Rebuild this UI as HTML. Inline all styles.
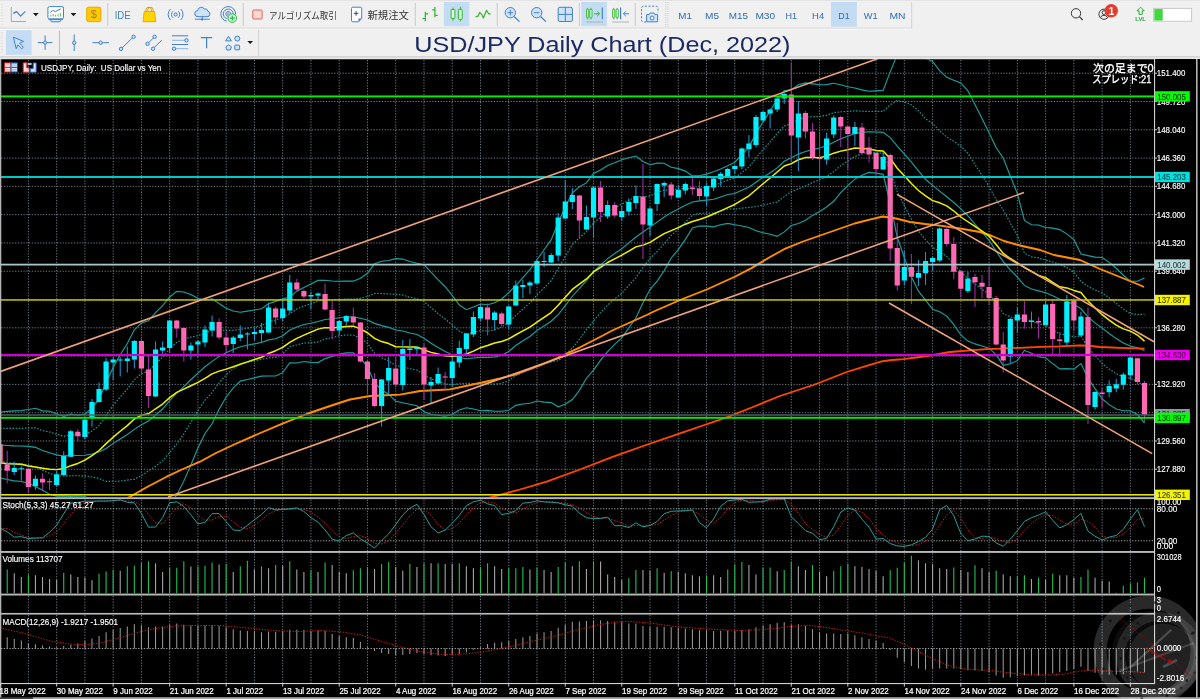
<!DOCTYPE html>
<html><head><meta charset="utf-8"><title>USD/JPY Daily Chart</title>
<style>
html,body{margin:0;padding:0;background:#000;}
body{width:1200px;height:699px;overflow:hidden;font-family:"Liberation Sans",sans-serif;}
svg{display:block}
</style></head><body>
<div id="app" style="will-change:transform;width:1200px;height:699px"><svg width="1200" height="699" viewBox="0 0 1200 699">
<defs>
<clipPath id="mainclip"><rect x="1" y="59.5" width="1153.0" height="437.7"/></clipPath>
<clipPath id="wmclip"><rect x="1" y="595" width="1195" height="104"/></clipPath>
<clipPath id="stclip"><rect x="1" y="499" width="1153.0" height="52"/></clipPath>
</defs>
<rect x="0" y="0" width="1200" height="699" fill="#f0f0f0"/>
<rect x="0" y="59" width="1200" height="640" fill="#000"/>
<g id="grid" stroke="#8492a0" stroke-width="0.95" stroke-dasharray="1.3,1.5" fill="none" opacity="0.85">
<path d="M28.39 60V496.5M28.39 499.5V551M28.39 553.5V593M28.39 596V613M28.39 615V683"/>
<path d="M56.65 60V496.5M56.65 499.5V551M56.65 553.5V593M56.65 596V613M56.65 615V683"/>
<path d="M84.9 60V496.5M84.9 499.5V551M84.9 553.5V593M84.9 596V613M84.9 615V683"/>
<path d="M113.16 60V496.5M113.16 499.5V551M113.16 553.5V593M113.16 596V613M113.16 615V683"/>
<path d="M141.42 60V496.5M141.42 499.5V551M141.42 553.5V593M141.42 596V613M141.42 615V683"/>
<path d="M169.67 60V496.5M169.67 499.5V551M169.67 553.5V593M169.67 596V613M169.67 615V683"/>
<path d="M197.93 60V496.5M197.93 499.5V551M197.93 553.5V593M197.93 596V613M197.93 615V683"/>
<path d="M226.18 60V496.5M226.18 499.5V551M226.18 553.5V593M226.18 596V613M226.18 615V683"/>
<path d="M254.44 60V496.5M254.44 499.5V551M254.44 553.5V593M254.44 596V613M254.44 615V683"/>
<path d="M282.7 60V496.5M282.7 499.5V551M282.7 553.5V593M282.7 596V613M282.7 615V683"/>
<path d="M310.95 60V496.5M310.95 499.5V551M310.95 553.5V593M310.95 596V613M310.95 615V683"/>
<path d="M339.21 60V496.5M339.21 499.5V551M339.21 553.5V593M339.21 596V613M339.21 615V683"/>
<path d="M367.46 60V496.5M367.46 499.5V551M367.46 553.5V593M367.46 596V613M367.46 615V683"/>
<path d="M395.72 60V496.5M395.72 499.5V551M395.72 553.5V593M395.72 596V613M395.72 615V683"/>
<path d="M423.98 60V496.5M423.98 499.5V551M423.98 553.5V593M423.98 596V613M423.98 615V683"/>
<path d="M452.23 60V496.5M452.23 499.5V551M452.23 553.5V593M452.23 596V613M452.23 615V683"/>
<path d="M480.49 60V496.5M480.49 499.5V551M480.49 553.5V593M480.49 596V613M480.49 615V683"/>
<path d="M508.74 60V496.5M508.74 499.5V551M508.74 553.5V593M508.74 596V613M508.74 615V683"/>
<path d="M537 60V496.5M537 499.5V551M537 553.5V593M537 596V613M537 615V683"/>
<path d="M565.26 60V496.5M565.26 499.5V551M565.26 553.5V593M565.26 596V613M565.26 615V683"/>
<path d="M593.51 60V496.5M593.51 499.5V551M593.51 553.5V593M593.51 596V613M593.51 615V683"/>
<path d="M621.77 60V496.5M621.77 499.5V551M621.77 553.5V593M621.77 596V613M621.77 615V683"/>
<path d="M650.02 60V496.5M650.02 499.5V551M650.02 553.5V593M650.02 596V613M650.02 615V683"/>
<path d="M678.28 60V496.5M678.28 499.5V551M678.28 553.5V593M678.28 596V613M678.28 615V683"/>
<path d="M706.54 60V496.5M706.54 499.5V551M706.54 553.5V593M706.54 596V613M706.54 615V683"/>
<path d="M734.79 60V496.5M734.79 499.5V551M734.79 553.5V593M734.79 596V613M734.79 615V683"/>
<path d="M763.05 60V496.5M763.05 499.5V551M763.05 553.5V593M763.05 596V613M763.05 615V683"/>
<path d="M791.3 60V496.5M791.3 499.5V551M791.3 553.5V593M791.3 596V613M791.3 615V683"/>
<path d="M819.56 60V496.5M819.56 499.5V551M819.56 553.5V593M819.56 596V613M819.56 615V683"/>
<path d="M847.82 60V496.5M847.82 499.5V551M847.82 553.5V593M847.82 596V613M847.82 615V683"/>
<path d="M876.07 60V496.5M876.07 499.5V551M876.07 553.5V593M876.07 596V613M876.07 615V683"/>
<path d="M904.33 60V496.5M904.33 499.5V551M904.33 553.5V593M904.33 596V613M904.33 615V683"/>
<path d="M932.58 60V496.5M932.58 499.5V551M932.58 553.5V593M932.58 596V613M932.58 615V683"/>
<path d="M960.84 60V496.5M960.84 499.5V551M960.84 553.5V593M960.84 596V613M960.84 615V683"/>
<path d="M989.1 60V496.5M989.1 499.5V551M989.1 553.5V593M989.1 596V613M989.1 615V683"/>
<path d="M1017.35 60V496.5M1017.35 499.5V551M1017.35 553.5V593M1017.35 596V613M1017.35 615V683"/>
<path d="M1045.61 60V496.5M1045.61 499.5V551M1045.61 553.5V593M1045.61 596V613M1045.61 615V683"/>
<path d="M1073.86 60V496.5M1073.86 499.5V551M1073.86 553.5V593M1073.86 596V613M1073.86 615V683"/>
<path d="M1102.12 60V496.5M1102.12 499.5V551M1102.12 553.5V593M1102.12 596V613M1102.12 615V683"/>
<path d="M1130.38 60V496.5M1130.38 499.5V551M1130.38 553.5V593M1130.38 596V613M1130.38 615V683"/>
<path d="M1 73.2H1154.5"/>
<path d="M1 101.49H1154.5"/>
<path d="M1 129.78H1154.5"/>
<path d="M1 158.07H1154.5"/>
<path d="M1 186.36H1154.5"/>
<path d="M1 214.65H1154.5"/>
<path d="M1 242.94H1154.5"/>
<path d="M1 271.23H1154.5"/>
<path d="M1 299.52H1154.5"/>
<path d="M1 327.81H1154.5"/>
<path d="M1 356.1H1154.5"/>
<path d="M1 384.39H1154.5"/>
<path d="M1 412.68H1154.5"/>
<path d="M1 440.97H1154.5"/>
<path d="M1 469.26H1154.5"/>
<path d="M1 508.8H1154.5M1 540.8H1154.5" stroke="#c8c8c8"/>
<path d="M1 648.5H1154.5" stroke="#c8c8c8"/>
</g>
<g id="ind" clip-path="url(#mainclip)">
<polyline points="0.14,412.11 7.2,411.38 14.26,410.89 21.33,410.66 28.39,409.58 35.46,408.3 42.52,410.86 49.58,411.18 56.65,413.67 63.71,416.37 70.78,414.14 77.84,415.1 84.9,414.16 91.97,407.92 99.03,399.24 106.1,382.72 113.16,367.45 120.22,354.82 127.29,343.48 134.35,329.8 141.42,322.96 148.48,320.79 155.54,312.68 162.61,305.65 169.67,297 176.74,291.42 183.8,291.98 190.86,294.46 197.93,298.23 204.99,300.03 212.06,298.83 219.12,303.48 226.18,308.3 233.25,310.92 240.31,312.28 247.38,311.11 254.44,309.92 261.5,308.73 268.57,303.81 275.63,301.37 282.7,298.77 289.76,297.28 296.82,291.14 303.89,287.55 310.95,284.11 318.02,280.39 325.08,280.27 332.14,281 339.21,281.42 346.27,281.15 353.34,281.16 360.4,278.3 367.46,273.27 374.53,263.78 381.59,261.32 388.66,260.5 395.72,258.64 402.78,259.1 409.85,261.59 416.91,263.18 423.98,264.86 431.04,272.15 438.1,279.66 445.17,286.74 452.23,295.4 459.3,304.99 466.36,309.69 473.42,307.07 480.49,304.02 487.55,304.7 494.62,302.72 501.68,299.03 508.74,292.71 515.81,285.6 522.87,277.53 529.94,269.71 537,259.7 544.06,249.75 551.13,239.89 558.19,222.71 565.26,206.96 572.32,193.01 579.38,186.8 586.45,182.88 593.51,173.54 600.58,169.99 607.64,165.61 614.7,162.79 621.77,159.67 628.83,157.82 635.9,156.02 642.96,161.46 650.02,164.77 657.09,163.09 664.15,163.23 671.22,167.34 678.28,168.63 685.34,171.12 692.41,175.89 699.47,175.71 706.54,174.12 713.6,171.68 720.66,169.04 727.73,165.71 734.79,162.18 741.86,154.62 748.92,146.88 755.98,133.76 763.05,121.84 770.11,111.1 777.18,99.3 784.24,90.76 791.3,89.78 798.37,84.76 805.43,82.86 812.5,83.86 819.56,84.77 826.62,84.58 833.69,83.19 840.75,84.81 847.82,86.75 854.88,88.04 861.94,89.86 869.01,91.2 876.07,90.83 883.14,90.42 890.2,71.91 897.26,54.82 904.33,49.98 911.39,47.6 918.46,50.63 925.52,58.3 932.58,61.52 939.65,70.54 946.71,77.3 953.78,80.24 960.84,82.93 967.9,90.82 974.97,104.52 982.03,118.48 989.1,132.7 996.16,147.75 1003.22,158.03 1010.29,175.95 1017.35,193.65 1024.42,220.48 1031.48,224.71 1038.54,224.97 1045.61,227.53 1052.67,228.1 1059.74,229.63 1066.8,233.9 1073.86,239.59 1080.93,254.06 1087.99,255.64 1095.06,257.12 1102.12,257.47 1109.18,262.38 1116.25,268.27 1123.31,275.24 1130.38,281.22 1137.44,281.24 1144.5,277.98" fill="none" stroke="#1a9a9a" stroke-width="1.1"/>
<polyline points="0.14,477.76 7.2,479.5 14.26,480.91 21.33,481.49 28.39,483.25 35.46,486.41 42.52,490.18 49.58,494.21 56.65,496.09 63.71,495.86 70.78,496.33 77.84,495.98 84.9,496.48 91.97,500 99.03,504.97 106.1,514.21 113.16,519.28 120.22,523.21 127.29,525.62 134.35,529.01 141.42,526.46 148.48,521.15 155.54,517.4 162.61,512.34 169.67,504.35 176.74,494.9 183.8,481.13 190.86,465.01 197.93,447.96 204.99,433.54 212.06,423.81 219.12,409.27 226.18,396.98 233.25,387.92 240.31,381.1 247.38,379.47 254.44,377.9 261.5,376.13 268.57,375.97 275.63,376.07 282.7,372.65 289.76,362.8 296.82,362.96 303.89,361.47 310.95,362.35 318.02,362.59 325.08,358.61 332.14,356.42 339.21,353.96 346.27,352.87 353.34,352.92 360.4,358.2 367.46,366.63 374.53,382.96 381.59,389.92 388.66,394.2 395.72,401.3 402.78,402.74 409.85,404.33 416.91,405.72 423.98,411.66 431.04,414.31 438.1,415.24 445.17,416.26 452.23,414.24 459.3,410.09 466.36,407.81 473.42,409.03 480.49,410.68 487.55,410.34 494.62,411.32 501.68,411.25 508.74,410.31 515.81,405.38 522.87,404.01 529.94,403.27 537,400.94 544.06,402.09 551.13,402.61 558.19,406.79 565.26,404.22 572.32,399.47 579.38,390.34 586.45,378.2 593.51,370.14 600.58,360.09 607.64,351.61 614.7,344.29 621.77,337.81 628.83,327.92 635.9,318.06 642.96,302.66 650.02,289.57 657.09,281.09 664.15,270.75 671.22,257.94 678.28,249.55 685.34,239.36 692.41,227.99 699.47,226.03 706.54,226.08 713.6,226.86 720.66,224.82 727.73,223.35 734.79,224.74 741.86,225.96 748.92,227.56 755.98,230.82 763.05,232.84 770.11,234.32 777.18,236.36 784.24,231.86 791.3,225.54 798.37,223.5 805.43,220.26 812.5,215.42 819.56,211.41 826.62,207.04 833.69,201.27 840.75,192.69 847.82,185.55 854.88,179.12 861.94,175.22 869.01,172.42 876.07,173.09 883.14,174.34 890.2,203.33 897.26,237.27 904.33,257.61 911.39,276.72 918.46,291.15 925.52,300.18 932.58,309.2 939.65,311.68 946.71,316.16 953.78,324.69 960.84,334.97 967.9,341.1 974.97,343.89 982.03,345.96 989.1,348.14 996.16,354.83 1003.22,365.29 1010.29,363.83 1017.35,360.67 1024.42,350.34 1031.48,353.31 1038.54,356.74 1045.61,357.92 1052.67,363.58 1059.74,368.85 1066.8,368.62 1073.86,369.17 1080.93,363.52 1087.99,378.03 1095.06,388.57 1102.12,398.76 1109.18,404.6 1116.25,408.91 1123.31,410.73 1130.38,410.7 1137.44,414.44 1144.5,423.12" fill="none" stroke="#1a9a9a" stroke-width="1.1"/>
<polyline points="0.14,444.94 7.2,445.44 14.26,445.9 21.33,446.07 28.39,446.42 35.46,447.35 42.52,450.52 49.58,452.69 56.65,454.88 63.71,456.11 70.78,455.24 77.84,455.54 84.9,455.32 91.97,453.96 99.03,452.1 106.1,448.47 113.16,443.36 120.22,439.01 127.29,434.55 134.35,429.41 141.42,424.71 148.48,420.97 155.54,415.04 162.61,409 169.67,400.68 176.74,393.16 183.8,386.56 190.86,379.74 197.93,373.09 204.99,366.78 212.06,361.32 219.12,356.38 226.18,352.64 233.25,349.42 240.31,346.69 247.38,345.29 254.44,343.91 261.5,342.43 268.57,339.89 275.63,338.72 282.7,335.71 289.76,330.04 296.82,327.05 303.89,324.51 310.95,323.23 318.02,321.49 325.08,319.44 332.14,318.71 339.21,317.69 346.27,317.01 353.34,317.04 360.4,318.25 367.46,319.95 374.53,323.37 381.59,325.62 388.66,327.35 395.72,329.97 402.78,330.92 409.85,332.96 416.91,334.45 423.98,338.26 431.04,343.23 438.1,347.45 445.17,351.5 452.23,354.82 459.3,357.54 466.36,358.75 473.42,358.05 480.49,357.35 487.55,357.52 494.62,357.02 501.68,355.14 508.74,351.51 515.81,345.49 522.87,340.77 529.94,336.49 537,330.32 544.06,325.92 551.13,321.25 558.19,314.75 565.26,305.59 572.32,296.24 579.38,288.57 586.45,280.54 593.51,271.84 600.58,265.04 607.64,258.61 614.7,253.54 621.77,248.74 628.83,242.87 635.9,237.04 642.96,232.06 650.02,227.17 657.09,222.09 664.15,216.99 671.22,212.64 678.28,209.09 685.34,205.24 692.41,201.94 699.47,200.87 706.54,200.1 713.6,199.27 720.66,196.93 727.73,194.53 734.79,193.46 741.86,190.29 748.92,187.22 755.98,182.29 763.05,177.34 770.11,172.71 777.18,167.83 784.24,161.31 791.3,157.66 798.37,154.13 805.43,151.56 812.5,149.64 819.56,148.09 826.62,145.81 833.69,142.23 840.75,138.75 847.82,136.15 854.88,133.58 861.94,132.54 869.01,131.81 876.07,131.96 883.14,132.38 890.2,137.62 897.26,146.05 904.33,153.8 911.39,162.16 918.46,170.89 925.52,179.24 932.58,185.36 939.65,191.11 946.71,196.73 953.78,202.47 960.84,208.95 967.9,215.96 974.97,224.21 982.03,232.22 989.1,240.42 996.16,251.29 1003.22,261.66 1010.29,269.89 1017.35,277.16 1024.42,285.41 1031.48,289.01 1038.54,290.85 1045.61,292.73 1052.67,295.84 1059.74,299.24 1066.8,301.26 1073.86,304.38 1080.93,308.79 1087.99,316.83 1095.06,322.84 1102.12,328.12 1109.18,333.49 1116.25,338.59 1123.31,342.99 1130.38,345.96 1137.44,347.84 1144.5,350.55" fill="none" stroke="#1a9a9a" stroke-width="1.1"/>
<polyline points="0.14,428.52 7.2,428.41 14.26,428.4 21.33,428.37 28.39,428 35.46,427.83 42.52,430.69 49.58,431.94 56.65,434.28 63.71,436.24 70.78,434.69 77.84,435.32 84.9,434.74 91.97,430.94 99.03,425.67 106.1,415.59 113.16,405.41 120.22,396.92 127.29,389.02 134.35,379.6 141.42,373.84 148.48,370.88 155.54,363.86 162.61,357.32 169.67,348.84 176.74,342.29 183.8,339.27 190.86,337.1 197.93,335.66 204.99,333.41 212.06,330.07 219.12,329.93 226.18,330.47 233.25,330.17 240.31,329.48 247.38,328.2 254.44,326.92 261.5,325.58 268.57,321.85 275.63,320.04 282.7,317.24 289.76,313.66 296.82,309.1 303.89,306.03 310.95,303.67 318.02,300.94 325.08,299.86 332.14,299.86 339.21,299.55 346.27,299.08 353.34,299.1 360.4,298.28 367.46,296.61 374.53,293.57 381.59,293.47 388.66,293.92 395.72,294.3 402.78,295.01 409.85,297.28 416.91,298.82 423.98,301.56 431.04,307.69 438.1,313.56 445.17,319.12 452.23,325.11 459.3,331.27 466.36,334.22 473.42,332.56 480.49,330.69 487.55,331.11 494.62,329.87 501.68,327.09 508.74,322.11 515.81,315.54 522.87,309.15 529.94,303.1 537,295.01 544.06,287.84 551.13,280.57 558.19,268.73 565.26,256.27 572.32,244.62 579.38,237.69 586.45,231.71 593.51,222.69 600.58,217.52 607.64,212.11 614.7,208.17 621.77,204.21 628.83,200.35 635.9,196.53 642.96,196.76 650.02,195.97 657.09,192.59 664.15,190.11 671.22,189.99 678.28,188.86 685.34,188.18 692.41,188.92 699.47,188.29 706.54,187.11 713.6,185.48 720.66,182.98 727.73,180.12 734.79,177.82 741.86,172.46 748.92,167.05 755.98,158.03 763.05,149.59 770.11,141.9 777.18,133.56 784.24,126.04 791.3,123.72 798.37,119.45 805.43,117.21 812.5,116.75 819.56,116.43 826.62,115.2 833.69,112.71 840.75,111.78 847.82,111.45 854.88,110.81 861.94,111.2 869.01,111.51 876.07,111.4 883.14,111.4 890.2,104.76 897.26,100.43 904.33,101.89 911.39,104.88 918.46,110.76 925.52,118.77 932.58,123.44 939.65,130.82 946.71,137.02 953.78,141.35 960.84,145.94 967.9,153.39 974.97,164.36 982.03,175.35 989.1,186.56 996.16,199.52 1003.22,209.85 1010.29,222.92 1017.35,235.41 1024.42,252.95 1031.48,256.86 1038.54,257.91 1045.61,260.13 1052.67,261.97 1059.74,264.43 1066.8,267.58 1073.86,271.98 1080.93,281.43 1087.99,286.24 1095.06,289.98 1102.12,292.79 1109.18,297.93 1116.25,303.43 1123.31,309.11 1130.38,313.59 1137.44,314.54 1144.5,314.27" fill="none" stroke="#1a9a9a" stroke-width="1.1" stroke-dasharray="1.5,1.6"/>
<polyline points="0.14,461.35 7.2,462.47 14.26,463.4 21.33,463.78 28.39,464.83 35.46,466.88 42.52,470.35 49.58,473.45 56.65,475.49 63.71,475.99 70.78,475.79 77.84,475.76 84.9,475.9 91.97,476.98 99.03,478.53 106.1,481.34 113.16,481.32 120.22,481.11 127.29,480.09 134.35,479.21 141.42,475.58 148.48,471.06 155.54,466.22 162.61,460.67 169.67,452.51 176.74,444.03 183.8,433.84 190.86,422.37 197.93,410.53 204.99,400.16 212.06,392.57 219.12,382.82 226.18,374.81 233.25,368.67 240.31,363.9 247.38,362.38 254.44,360.9 261.5,359.28 268.57,357.93 275.63,357.4 282.7,354.18 289.76,346.42 296.82,345 303.89,342.99 310.95,342.79 318.02,342.04 325.08,339.02 332.14,337.56 339.21,335.83 346.27,334.94 353.34,334.98 360.4,338.22 367.46,343.29 374.53,353.17 381.59,357.77 388.66,360.78 395.72,365.64 402.78,366.83 409.85,368.64 416.91,370.08 423.98,374.96 431.04,378.77 438.1,381.34 445.17,383.88 452.23,384.53 459.3,383.81 466.36,383.28 473.42,383.54 480.49,384.01 487.55,383.93 494.62,384.17 501.68,383.19 508.74,380.91 515.81,375.44 522.87,372.39 529.94,369.88 537,365.63 544.06,364 551.13,361.93 558.19,360.77 565.26,354.91 572.32,347.86 579.38,339.45 586.45,329.37 593.51,320.99 600.58,312.56 607.64,305.11 614.7,298.91 621.77,293.27 628.83,285.39 635.9,277.55 642.96,267.36 650.02,258.37 657.09,251.59 664.15,243.87 671.22,235.29 678.28,229.32 685.34,222.3 692.41,214.96 699.47,213.45 706.54,213.09 713.6,213.06 720.66,210.88 727.73,208.94 734.79,209.1 741.86,208.12 748.92,207.39 755.98,206.55 763.05,205.09 770.11,203.52 777.18,202.1 784.24,196.58 791.3,191.6 798.37,188.81 805.43,185.91 812.5,182.53 819.56,179.75 826.62,176.42 833.69,171.75 840.75,165.72 847.82,160.85 854.88,156.35 861.94,153.88 869.01,152.11 876.07,152.52 883.14,153.36 890.2,170.48 897.26,191.66 904.33,205.7 911.39,219.44 918.46,231.02 925.52,239.71 932.58,247.28 939.65,251.4 946.71,256.44 953.78,263.58 960.84,271.96 967.9,278.53 974.97,284.05 982.03,289.09 989.1,294.28 996.16,303.06 1003.22,313.47 1010.29,316.86 1017.35,318.91 1024.42,317.87 1031.48,321.16 1038.54,323.8 1045.61,325.32 1052.67,329.71 1059.74,334.05 1066.8,334.94 1073.86,336.78 1080.93,336.15 1087.99,347.43 1095.06,355.71 1102.12,363.44 1109.18,369.05 1116.25,373.75 1123.31,376.86 1130.38,378.33 1137.44,381.14 1144.5,386.83" fill="none" stroke="#1a9a9a" stroke-width="1.1" stroke-dasharray="1.5,1.6"/>
<polyline points="118,503 130,496.7 148,486.5 166.7,476.7 183,469 200,461.7 216,453 233,445 258,434 283,423.3 308,413.5 333,405 350,399.5 370,396 400,394.6 420,391 450,389.4 480,383 500,378.5 513.3,375 519.6,373 540,365.3 556.7,358.3 580,347.3 600,337 613.3,330 630,322.5 646.7,315 656,310.5 663,307.5 680,300 706.7,289.5 720,283.5 734.3,277 751.5,268.1 768.7,257.8 784.1,249.2 803,241.5 820.2,235.5 837.3,229.5 854.5,223.5 871.7,219.2 882.8,216.5 896,218.5 910,222 925,224 940,225.6 960,228.5 980,232 992,236 1004,241 1020,245.5 1040,250 1054,255 1080,260 1100,269 1120,277 1139.6,285 1144,287" fill="none" stroke="#ff8c00" stroke-width="1.85" stroke-linejoin="round"/>
<polyline points="470,503 493.3,496.7 520,489.5 546.7,481.7 580,469.5 613.3,456.7 646,445 680,433.3 703,425.5 726.7,417.3 753,407 780,396 813.3,385 820,382.5 846.7,372 865,366.3 881.7,361.3 892,360 903.3,359.2 920,357 933.3,355 950,352 970,350.3 986.7,349.2 1000,348.6 1020,347.8 1040,346.8 1060,346.4 1080,345.4 1090,345.8 1100,347 1120,347.8 1144.5,348.6" fill="none" stroke="#ff4500" stroke-width="1.8" stroke-linejoin="round"/>
<polyline points="0.14,463 7.2,463.6 14.26,463.94 21.33,464.27 28.39,466.02 35.46,467 42.52,468.19 49.58,469.25 56.65,469.63 63.71,468.57 70.78,465.7 77.84,463.44 84.9,460.08 91.97,455.61 99.03,450.48 106.1,443.63 113.16,437.17 120.22,431.2 127.29,425.6 134.35,419.09 141.42,415.21 148.48,413.73 155.54,408.78 162.61,404.06 169.67,397.64 176.74,392.31 183.8,389.09 190.86,385.75 197.93,382.33 204.99,378.28 212.06,373.95 219.12,371.14 226.18,369.13 233.25,366.7 240.31,364.22 247.38,361.85 254.44,359.55 261.5,357.28 268.57,353.46 275.63,350.7 282.7,347.44 289.76,342.46 296.82,338.39 303.89,335.18 310.95,332.09 318.02,329.12 325.08,327.61 332.14,327.87 339.21,327.34 346.27,326.47 353.34,326.17 360.4,328.9 367.46,332.75 374.53,338.38 381.59,341.54 388.66,343.57 395.72,346.72 402.78,346.89 409.85,347.01 416.91,347.04 423.98,349.93 431.04,352.39 438.1,354.06 445.17,355.87 452.23,356.29 459.3,355.65 466.36,353.96 473.42,351.12 480.49,347.72 487.55,345.54 494.62,343.01 501.68,341.55 508.74,338.84 515.81,334.75 522.87,330.92 529.94,327.19 537,322.1 544.06,317.4 551.13,312.6 558.19,305.27 565.26,297.28 572.32,289.42 579.38,284.12 586.45,278.96 593.51,271.92 600.58,267.31 607.64,262.51 614.7,258.91 621.77,255.22 628.83,251.13 635.9,246.89 642.96,245.16 650.02,242.34 657.09,237.86 664.15,233.64 671.22,230.7 678.28,227.57 685.34,224.21 692.41,221.51 699.47,219.54 706.54,216.96 713.6,214 720.66,210.9 727.73,207.68 734.79,204.47 741.86,200.18 748.92,195.82 755.98,189.76 763.05,183.78 770.11,178.06 777.18,171.93 784.24,165.94 791.3,163.6 798.37,159.74 805.43,157.58 812.5,157.53 819.56,157.64 826.62,156.16 833.69,153.18 840.75,151.12 847.82,149.81 854.88,148.05 861.94,148.43 869.01,148.89 876.07,150.44 883.14,150.94 890.2,158.44 897.26,168.21 904.33,175.81 911.39,183.57 918.46,190.45 925.52,195.88 932.58,200.66 939.65,202.79 946.71,205.96 953.78,211.02 960.84,216.99 967.9,221.73 974.97,226.39 982.03,231.03 989.1,236.18 996.16,244.51 1003.22,253.42 1010.29,258.47 1017.35,262.77 1024.42,267.32 1031.48,271.41 1038.54,275.33 1045.61,277.57 1052.67,282.29 1059.74,286.81 1066.8,287.93 1073.86,290.43 1080.93,292.44 1087.99,301.09 1095.06,308.08 1102.12,314.69 1109.18,320.19 1116.25,325.12 1123.31,328.93 1130.38,331.12 1137.44,335.04 1144.5,341.16" fill="none" stroke="#ecec00" stroke-width="1.45" stroke-linejoin="round"/>
</g>
<g clip-path="url(#mainclip)">
<path d="M14.26 461.7V475M21.33 465.8V480.8M35.46 475.3V489.7M56.65 470.8V486.7M63.71 451.3V475.8M70.78 429.7V457M84.9 417.5V439.2M91.97 399V426.7M99.03 382.4V402.5M106.1 358V391M113.16 358V380M120.22 357V376.4M127.29 346.4V372.4M134.35 340V368.4M155.54 341.6V397M162.61 341.6V356M169.67 320V353M190.86 342.4V359.6M197.93 340V357M204.99 325.6V347M212.06 315.4V336.4M233.25 336V353M240.31 325.6V341M247.38 332V349.4M254.44 328V340M261.5 323V343M268.57 302.4V333M282.7 299.6V321M289.76 275V313M310.95 292V309M318.02 292.6V299M339.21 320V335M346.27 315V325.4M381.59 379V426.5M388.66 357V395M402.78 340V390.6M409.85 339V360M416.91 346V354M431.04 377V403M438.1 367.4V384M452.23 357V387M459.3 340.6V367.4M466.36 333V353.4M473.42 311.4V337M480.49 304.6V321M494.62 311V330M508.74 305.4V329M515.81 280.6V306M522.87 280V298M529.94 281V294M537 260V284.4M544.06 252V267M551.13 253V263M558.19 213V261M565.26 180V219M572.32 188V209M586.45 205.6V230M593.51 186.4V238M607.64 200.4V219M621.77 206V220.4M628.83 198.6V215.6M635.9 185.6V209M650.02 207V236M657.09 183.6V211M664.15 181.6V197M678.28 185V198M685.34 182.4V194.4M706.54 182.4V205.6M713.6 178V191M720.66 172V186.2M727.73 168V178M734.79 165V174M741.86 147.6V169.6M748.92 135V157M755.98 115V147.6M763.05 111V121.4M770.11 108.6V128.4M777.18 97.6V112M784.24 93V104M798.37 101V171M826.62 132.4V164.4M833.69 115.6V138M854.88 122V146M883.14 152V170M904.33 250.7V285.5M918.46 260V286M925.52 252V285M932.58 257V270M939.65 227.6V262M967.9 272V293M1010.29 318V363M1017.35 307.4V333M1031.48 311.4V328.6M1045.61 301V325.4M1066.8 295V345M1080.93 312V336.6M1095.06 391.3V409.6M1109.18 380.2V397.3M1116.25 378.7V392.3M1123.31 372.4V389.5M1130.38 357V379.3" stroke="#1e90c8" stroke-width="1.1" fill="none"/>
<path d="M0.14 444V463M7.2 450.8V483.3M28.39 468.3V493.3M42.52 473.3V490M49.58 478.3V490M77.84 429.2V441.7M141.42 339V373M148.48 356V408M176.74 320V337.6M183.8 327.6V361.6M219.12 318.4V339.4M226.18 332V352M275.63 306.4V324.4M296.82 279V291M303.89 289.4V298.6M325.08 283.4V310.6M332.14 301V339.4M353.34 307.4V325.4M360.4 322V362.6M367.46 361V393M374.53 373V407M395.72 358V387M423.98 344V400M445.17 372V390M487.55 303.4V335.4M501.68 311.4V326.6M579.38 195V239M600.58 181V222M614.7 202V217.6M642.96 164V259M671.22 182V199.6M692.41 176V195M699.47 181V200M791.3 62.5V162M805.43 111V138.4M812.5 123V160M819.56 132V179M840.75 116V147M847.82 126V169.4M861.94 123V154M869.01 137V162.4M876.07 152.4V175M890.2 153.6V261M897.26 223V290.5M911.39 254V304M946.71 226V246.4M953.78 237V279.2M960.84 270.6V297.4M974.97 274V307M982.03 275V298M989.1 266.5V305M996.16 296V345.4M1003.22 332V372.6M1024.42 301V328.6M1038.54 317V338.6M1052.67 300V355M1059.74 332V357M1073.86 300V331M1087.99 307.4V423.9M1102.12 387.2V407.1M1137.44 357.9V384.5M1144.5 381.1V422" stroke="#962e9c" stroke-width="1.1" fill="none"/>
<path d="M11.66 468h5.2v4h-5.2zM18.73 468.3h5.2v1h-5.2zM32.86 478.7h5.2v7.6h-5.2zM54.05 474.2h5.2v10.8h-5.2zM61.11 455.8h5.2v19.2h-5.2zM68.18 431.3h5.2v25.4h-5.2zM82.3 419.7h5.2v17.3h-5.2zM89.37 402h5.2v16h-5.2zM96.43 389h5.2v13h-5.2zM103.5 361.4h5.2v28h-5.2zM110.56 359.6h5.2v2.8h-5.2zM117.62 359.6h5.2v1h-5.2zM124.69 358.4h5.2v2.6h-5.2zM131.75 341h5.2v18.6h-5.2zM152.94 349.4h5.2v47.2h-5.2zM160.01 347.4h5.2v3.2h-5.2zM167.07 320.6h5.2v27.4h-5.2zM188.26 345.6h5.2v4.8h-5.2zM195.33 341.4h5.2v3h-5.2zM202.39 329.6h5.2v12.8h-5.2zM209.46 322h5.2v8.6h-5.2zM230.65 337.6h5.2v6.4h-5.2zM237.71 334.4h5.2v3.6h-5.2zM244.78 333.4h5.2v1.2h-5.2zM251.84 332h5.2v2h-5.2zM258.9 330h5.2v3h-5.2zM265.97 307.6h5.2v24.8h-5.2zM280.1 308.4h5.2v9.6h-5.2zM287.16 282.6h5.2v28h-5.2zM308.35 295h5.2v1.6h-5.2zM315.42 293.6h5.2v2h-5.2zM336.61 321h5.2v9.6h-5.2zM343.67 316h5.2v5.4h-5.2zM378.99 379.4h5.2v26.6h-5.2zM386.06 368h5.2v12.4h-5.2zM400.18 349h5.2v36h-5.2zM407.25 348.4h5.2v1.6h-5.2zM414.31 347.4h5.2v1.6h-5.2zM428.44 382h5.2v3.4h-5.2zM435.5 374h5.2v9.4h-5.2zM449.63 361.4h5.2v16.6h-5.2zM456.7 348h5.2v14.6h-5.2zM463.76 333.6h5.2v15.4h-5.2zM470.82 317h5.2v17.4h-5.2zM477.89 307h5.2v11.4h-5.2zM492.02 312.6h5.2v7.4h-5.2zM506.14 306.4h5.2v18.2h-5.2zM513.21 285.6h5.2v19.9h-5.2zM520.27 285h5.2v2h-5.2zM527.34 282.4h5.2v3.2h-5.2zM534.4 261h5.2v22.6h-5.2zM541.46 261h5.2v1h-5.2zM548.53 255h5.2v7.4h-5.2zM555.59 217.4h5.2v38.2h-5.2zM562.66 201.4h5.2v17h-5.2zM569.72 195h5.2v7h-5.2zM583.85 217h5.2v12.4h-5.2zM590.91 187.4h5.2v30h-5.2zM605.04 205h5.2v11.4h-5.2zM619.17 211h5.2v6h-5.2zM626.23 202h5.2v9.4h-5.2zM633.3 196h5.2v7h-5.2zM647.42 208.6h5.2v16.8h-5.2zM654.49 184h5.2v20h-5.2zM661.55 183h5.2v2.6h-5.2zM675.68 190h5.2v7.4h-5.2zM682.74 184h5.2v6.6h-5.2zM703.94 186h5.2v10.4h-5.2zM711 178.4h5.2v9.2h-5.2zM718.06 173.8h5.2v5.2h-5.2zM725.13 169h5.2v8h-5.2zM732.19 166h5.2v3h-5.2zM739.26 148.6h5.2v17.8h-5.2zM746.32 143.6h5.2v5.4h-5.2zM753.38 117h5.2v28h-5.2zM760.45 112h5.2v8.6h-5.2zM767.51 109.4h5.2v4h-5.2zM774.58 98.4h5.2v11.2h-5.2zM781.64 94h5.2v4.6h-5.2zM795.77 113.4h5.2v24.2h-5.2zM824.02 138.4h5.2v21h-5.2zM831.09 117.4h5.2v17h-5.2zM852.28 127h5.2v7h-5.2zM880.54 157h5.2v12.4h-5.2zM901.73 267h5.2v13.5h-5.2zM915.86 273h5.2v4.8h-5.2zM922.92 261h5.2v12.3h-5.2zM929.98 258h5.2v4h-5.2zM937.05 228.4h5.2v32.2h-5.2zM965.3 278.6h5.2v12.4h-5.2zM1007.69 319h5.2v37.4h-5.2zM1014.75 314.4h5.2v6h-5.2zM1028.88 320.4h5.2v1.6h-5.2zM1043.01 304.4h5.2v20.6h-5.2zM1064.2 301.4h5.2v41h-5.2zM1078.33 316.6h5.2v19h-5.2zM1092.46 391.9h5.2v15.2h-5.2zM1106.58 386.1h5.2v6.2h-5.2zM1113.65 384.3h5.2v4.3h-5.2zM1120.71 374.6h5.2v10.2h-5.2zM1127.78 357.5h5.2v17.7h-5.2z" fill="#00f0ff"/>
<path d="M-2.46 444.2h5.2v18.3h-5.2zM4.6 464.2h5.2v6.6h-5.2zM25.79 468.7h5.2v18.3h-5.2zM39.92 478.7h5.2v3.8h-5.2zM46.98 481.3h5.2v1h-5.2zM75.24 431.7h5.2v4.6h-5.2zM138.82 341h5.2v27.6h-5.2zM145.88 369.4h5.2v26.6h-5.2zM174.14 320.6h5.2v7.8h-5.2zM181.2 328h5.2v22.4h-5.2zM216.52 322h5.2v15.4h-5.2zM223.58 337.4h5.2v7.6h-5.2zM273.03 308.4h5.2v9.2h-5.2zM294.22 282.6h5.2v7h-5.2zM301.29 291h5.2v5.6h-5.2zM322.48 294h5.2v15.4h-5.2zM329.54 310h5.2v21h-5.2zM350.74 316.6h5.2v6h-5.2zM357.8 322.6h5.2v39h-5.2zM364.86 361.4h5.2v17.6h-5.2zM371.93 379h5.2v27h-5.2zM393.12 368.4h5.2v16h-5.2zM421.38 347.4h5.2v37.2h-5.2zM442.57 376.6h5.2v1h-5.2zM484.95 307.4h5.2v12h-5.2zM499.08 313.4h5.2v10.6h-5.2zM576.78 195.6h5.2v25h-5.2zM597.98 187.4h5.2v24.6h-5.2zM612.1 205h5.2v10.6h-5.2zM640.36 196.6h5.2v27.8h-5.2zM668.62 184.4h5.2v11h-5.2zM689.81 187.4h5.2v1.6h-5.2zM696.87 188.4h5.2v7.6h-5.2zM788.7 94.4h5.2v41.2h-5.2zM802.83 113h5.2v18.6h-5.2zM809.9 131.4h5.2v25.6h-5.2zM816.96 158h5.2v1h-5.2zM838.15 117h5.2v9.4h-5.2zM845.22 126.4h5.2v7.6h-5.2zM859.34 127.4h5.2v25.6h-5.2zM866.41 147.4h5.2v7h-5.2zM873.47 153h5.2v16h-5.2zM887.6 155h5.2v93.4h-5.2zM894.66 248h5.2v37.5h-5.2zM908.79 267h5.2v9.7h-5.2zM944.11 229h5.2v15h-5.2zM951.18 244h5.2v27.7h-5.2zM958.24 271.2h5.2v17.5h-5.2zM972.37 277h5.2v5.3h-5.2zM979.43 282.7h5.2v4h-5.2zM986.5 287h5.2v11h-5.2zM993.56 298h5.2v46.4h-5.2zM1000.62 344.4h5.2v16h-5.2zM1021.82 314.4h5.2v7.6h-5.2zM1035.94 321h5.2v1.4h-5.2zM1050.07 304h5.2v35h-5.2zM1057.14 339.4h5.2v1.6h-5.2zM1071.26 300.6h5.2v19.8h-5.2zM1085.39 317h5.2v87.9h-5.2zM1099.52 392.6h5.2v1.5h-5.2zM1134.84 358.3h5.2v23.7h-5.2zM1141.9 383h5.2v31.6h-5.2z" fill="#ff69b4"/>
</g>
<use href="#ind" opacity="0.22"/>
<rect x="1" y="414.3" width="1153.5" height="1.4" fill="#56606a"/>
<rect x="1" y="95.45" width="1153.5" height="1.9" fill="#00f000"/>
<rect x="1" y="176" width="1153.5" height="2" fill="#00c8c8"/>
<rect x="1" y="263.7" width="1153.5" height="1.8" fill="#a8c8c8"/>
<rect x="1" y="299.32" width="1153.5" height="1.35" fill="#d2d200"/>
<rect x="1" y="353.9" width="1153.5" height="2.2" fill="#d000d0"/>
<rect x="1" y="416.85" width="1153.5" height="1.9" fill="#00f000"/>
<rect x="1" y="494.05" width="1153.5" height="1.5" fill="#f0f000"/>
<g stroke="#f0a27a" stroke-width="1.6" fill="none" stroke-linecap="butt">
<path d="M0 371.7L877.5 58.8"/>
<path d="M168 497L1024 192.6"/>
<path d="M897 194.4L1154 341.8"/>
<path d="M889 303L1152.2 453.6"/>
</g>
<g clip-path="url(#stclip)">
<polyline points="0.14,528.68 7.2,528.52 14.26,532.35 21.33,535.19 28.39,537.47 35.46,537.81 42.52,538.18 49.58,536.03 56.65,531.78 63.71,523.74 70.78,514.09 77.84,506.48 84.9,502.31 91.97,501.65 99.03,501.13 106.1,501.1 113.16,500.9 120.22,500.52 127.29,500.93 134.35,501.64 141.42,506.18 148.48,514.48 155.54,522.55 162.61,523.95 169.67,515.79 176.74,507.41 183.8,503.66 190.86,507.68 197.93,515.02 204.99,520.32 212.06,519.94 219.12,516.5 226.18,516.27 233.25,521.74 240.31,527.38 247.38,528.65 254.44,525.22 261.5,519.93 268.57,513.99 275.63,510.7 282.7,508.99 289.76,509.37 296.82,508.69 303.89,509.35 310.95,512.32 318.02,517.1 325.08,523.28 332.14,530.45 339.21,536.74 346.27,538.6 353.34,536.5 360.4,535.75 367.46,538.28 374.53,543.34 381.59,543.93 388.66,540.84 395.72,533.03 402.78,524.49 409.85,515.91 416.91,509.15 423.98,509.04 431.04,515.23 438.1,524.8 445.17,529.9 452.23,528.77 459.3,522.9 466.36,514.81 473.42,507.62 480.49,502.56 487.55,501.92 494.62,503.2 501.68,508.02 508.74,511.18 515.81,512.9 522.87,509.07 529.94,505.45 537,502.12 544.06,501.71 551.13,501.64 558.19,502.37 565.26,503.3 572.32,504.59 579.38,507.98 586.45,512.33 593.51,516.45 600.58,518.23 607.64,518.01 614.7,520.44 621.77,522.84 628.83,526.32 635.9,525.33 642.96,525.73 650.02,525.03 657.09,524.61 664.15,520.27 671.22,515.53 678.28,512 685.34,510.98 692.41,510.53 699.47,514.43 706.54,520.14 713.6,523.13 720.66,517.67 727.73,508.67 734.79,502.35 741.86,500.06 748.92,500.54 755.98,501.24 763.05,501.97 770.11,500.94 777.18,499.88 784.24,498.98 791.3,504.86 798.37,513.08 805.43,523.68 812.5,529.16 819.56,534.57 826.62,537.13 833.69,534.91 840.75,525.67 847.82,515.51 854.88,510 861.94,512.35 869.01,518.74 876.07,528.38 883.14,534.83 890.2,540.32 897.26,542.64 904.33,545.29 911.39,545.72 918.46,544.26 925.52,541.26 932.58,535.99 939.65,525.39 946.71,514.74 953.78,510.32 960.84,518.24 967.9,529.99 974.97,537.77 982.03,538.64 989.1,537.22 996.16,538.53 1003.22,541.88 1010.29,542.82 1017.35,538.73 1024.42,530.47 1031.48,523.29 1038.54,518.08 1045.61,514.88 1052.67,515.7 1059.74,519.96 1066.8,524.21 1073.86,524.02 1080.93,519.21 1087.99,521.41 1095.06,526.97 1102.12,535.89 1109.18,537.84 1116.25,537.58 1123.31,533.95 1130.38,527.9 1137.44,519.31 1144.5,518.43" fill="none" stroke="#d0202c" stroke-width="0.95" stroke-dasharray="1.5,1.5"/>
<polyline points="0.14,528.14 7.2,531.8 14.26,537.11 21.33,536.67 28.39,538.64 35.46,538.11 42.52,537.78 49.58,532.21 56.65,525.34 63.71,513.67 70.78,503.27 77.84,502.51 84.9,501.16 91.97,501.28 99.03,500.96 106.1,501.05 113.16,500.69 120.22,499.83 127.29,502.28 134.35,502.81 141.42,513.46 148.48,527.15 155.54,527.04 162.61,517.65 169.67,502.68 176.74,501.89 183.8,506.42 190.86,514.75 197.93,523.9 204.99,522.32 212.06,513.62 219.12,513.55 226.18,521.64 233.25,530.04 240.31,530.47 247.38,525.43 254.44,519.76 261.5,514.58 268.57,507.61 275.63,509.9 282.7,509.45 289.76,508.75 296.82,507.87 303.89,511.43 310.95,517.66 318.02,522.2 325.08,529.97 332.14,539.17 339.21,541.09 346.27,535.54 353.34,532.87 360.4,538.83 367.46,543.14 374.53,548.04 381.59,540.6 388.66,533.89 395.72,524.59 402.78,514.99 409.85,508.14 416.91,504.32 423.98,514.66 431.04,526.72 438.1,533.02 445.17,529.97 452.23,523.33 459.3,515.39 466.36,505.7 473.42,501.77 480.49,500.21 487.55,503.8 494.62,505.6 501.68,514.67 508.74,513.25 515.81,510.78 522.87,503.17 529.94,502.41 537,500.77 544.06,501.95 551.13,502.21 558.19,502.94 565.26,504.75 572.32,506.1 579.38,513.08 586.45,517.8 593.51,518.45 600.58,518.44 607.64,517.14 614.7,525.76 621.77,525.61 628.83,527.59 635.9,522.79 642.96,526.8 650.02,525.51 657.09,521.52 664.15,513.76 671.22,511.29 678.28,510.95 685.34,510.7 692.41,509.93 699.47,522.65 706.54,527.84 713.6,518.9 720.66,506.27 727.73,500.85 734.79,499.92 741.86,499.42 748.92,502.29 755.98,502.03 763.05,501.6 770.11,499.19 777.18,498.86 784.24,498.89 791.3,516.83 798.37,523.52 805.43,530.68 812.5,533.29 819.56,539.75 826.62,538.35 833.69,526.64 840.75,512.02 847.82,507.86 854.88,510.1 861.94,519.09 869.01,527.02 876.07,539.03 883.14,538.43 890.2,543.49 897.26,545.98 904.33,546.4 911.39,544.79 918.46,541.59 925.52,537.39 932.58,528.99 939.65,509.78 946.71,505.45 953.78,515.73 960.84,533.55 967.9,540.7 974.97,539.04 982.03,536.18 989.1,536.44 996.16,542.96 1003.22,546.24 1010.29,539.25 1017.35,530.7 1024.42,521.47 1031.48,517.69 1038.54,515.07 1045.61,511.89 1052.67,520.14 1059.74,527.87 1066.8,524.62 1073.86,519.58 1080.93,513.43 1087.99,531.23 1095.06,536.24 1102.12,540.2 1109.18,537.1 1116.25,535.46 1123.31,529.29 1130.38,518.96 1137.44,509.69 1144.5,526.66" fill="none" stroke="#22a09c" stroke-width="1.0"/>
</g>
<path d="M14.26 573.25V593.2M21.33 577V593.2M35.46 575.25V593.2M42.52 577V593.2M49.58 579V593.2M56.65 580V593.2M70.78 574.5V593.2M77.84 577V593.2M84.9 577.5V593.2M91.97 580.25V593.2M120.22 570.75V593.2M155.54 563.25V593.2M162.61 572V593.2M190.86 566.5V593.2M219.12 564.5V593.2M233.25 572V593.2M254.44 569.5V593.2M268.57 568.25V593.2M282.7 565.75V593.2M296.82 569.5V593.2M303.89 572V593.2M318.02 572V593.2M332.14 565V593.2M339.21 572V593.2M346.27 573.25V593.2M374.53 569V593.2M395.72 567V593.2M402.78 570.75V593.2M416.91 567V593.2M431.04 563.25V593.2M445.17 564V593.2M452.23 564V593.2M466.36 566.25V593.2M473.42 568.25V593.2M494.62 566.25V593.2M501.68 569V593.2M529.94 569.5V593.2M544.06 570V593.2M551.13 572V593.2M572.32 566.25V593.2M586.45 569V593.2M600.58 561.5V593.2M607.64 574.5V593.2M614.7 577V593.2M621.77 580V593.2M642.96 570V593.2M650.02 570.75V593.2M664.15 572.75V593.2M678.28 572V593.2M685.34 573.25V593.2M692.41 575.25V593.2M699.47 576.25V593.2M713.6 575.25V593.2M720.66 577V593.2M748.92 565V593.2M755.98 574.5V593.2M777.18 571.25V593.2M798.37 566.25V593.2M805.43 570V593.2M819.56 572V593.2M826.62 576.25V593.2M854.88 566.25V593.2M861.94 567V593.2M869.01 569V593.2M876.07 570.75V593.2M883.14 576.25V593.2M918.46 560.25V593.2M925.52 563.25V593.2M932.58 564V593.2M939.65 568.25V593.2M946.71 569V593.2M960.84 570V593.2M967.9 572V593.2M982.03 568.25V593.2M989.1 572V593.2M1003.22 574.5V593.2M1010.29 576.25V593.2M1031.48 579V593.2M1045.61 580V593.2M1059.74 575.25V593.2M1066.8 575.25V593.2M1073.86 577.75V593.2M1095.06 577.75V593.2M1102.12 580.75V593.2M1109.18 581.5V593.2M1116.25 592.75V593.2" stroke="#a4a4a4" stroke-width="1.1" fill="none"/>
<path d="M7.2 569.5V593.2M28.39 574.5V593.2M63.71 572.75V593.2M99.03 573.75V593.2M106.1 571.5V593.2M113.16 570V593.2M127.29 566.25V593.2M134.35 565.75V593.2M141.42 562.5V593.2M148.48 561.25V593.2M169.67 567.5V593.2M176.74 567.75V593.2M183.8 561.25V593.2M197.93 566.25V593.2M204.99 565.75V593.2M212.06 562.5V593.2M226.18 564V593.2M240.31 566.25V593.2M247.38 560.75V593.2M261.5 566.5V593.2M275.63 565V593.2M289.76 561.25V593.2M310.95 570.25V593.2M325.08 562.5V593.2M353.34 570.25V593.2M360.4 568.25V593.2M367.46 567V593.2M381.59 564V593.2M388.66 562V593.2M409.85 564V593.2M423.98 563.25V593.2M438.1 563.25V593.2M459.3 563.25V593.2M480.49 567V593.2M487.55 563.25V593.2M508.74 568.25V593.2M515.81 568.25V593.2M522.87 567V593.2M537 567.5V593.2M558.19 567V593.2M565.26 562.5V593.2M579.38 561.25V593.2M593.51 561.25V593.2M628.83 578.25V593.2M635.9 570V593.2M657.09 568.25V593.2M671.22 571.25V593.2M706.54 575.25V593.2M727.73 569.5V593.2M734.79 564.5V593.2M741.86 562V593.2M763.05 567.5V593.2M770.11 567.5V593.2M784.24 570V593.2M791.3 561.5V593.2M812.5 565V593.2M833.69 570.75V593.2M840.75 566.25V593.2M847.82 564V593.2M890.2 570.25V593.2M897.26 567.75V593.2M904.33 562.5V593.2M911.39 555.75V593.2M953.78 567.5V593.2M974.97 565.25V593.2M996.16 570.75V593.2M1017.35 576.25V593.2M1024.42 575.25V593.2M1038.54 577.75V593.2M1052.67 573.75V593.2M1080.93 577V593.2M1087.99 569.5V593.2M1123.31 585.75V593.2M1130.38 583.25V593.2M1137.44 582.5V593.2M1144.5 577.75V593.2" stroke="#1fbf55" stroke-width="1.1" fill="none"/>
<path d="M7.2 648.5V637.25M14.26 648.5V639M21.33 648.5V640.5M28.39 648.5V643.5M35.46 648.5V644.25M42.52 648.5V645.5M49.58 648.5V646.5M56.65 648.5V647.25M63.71 648.5V646M70.78 648.5V644.75M77.84 648.5V643.5M84.9 648.5V641M91.97 648.5V638.5M99.03 648.5V636M106.1 648.5V632.25M113.16 648.5V629.75M120.22 648.5V628M127.29 648.5V626.5M134.35 648.5V624.25M141.42 648.5V625.25M148.48 648.5V627.25M155.54 648.5V626.5M162.61 648.5V626.5M169.67 648.5V624.75M176.74 648.5V623.5M183.8 648.5V624.75M190.86 648.5V625.5M197.93 648.5V626M204.99 648.5V625.5M212.06 648.5V625.25M219.12 648.5V626M226.18 648.5V627.25M233.25 648.5V629.25M240.31 648.5V630.5M247.38 648.5V631M254.44 648.5V631M261.5 648.5V632.25M268.57 648.5V631.5M275.63 648.5V631.75M282.7 648.5V631M289.76 648.5V629.75M296.82 648.5V629.75M303.89 648.5V629.75M310.95 648.5V631M318.02 648.5V630.5M325.08 648.5V631M332.14 648.5V634M339.21 648.5V636M346.27 648.5V637.25M353.34 648.5V638M360.4 648.5V641.75M367.46 648.5V647.25M374.53 648.5V651M381.59 648.5V653M388.66 648.5V654M395.72 648.5V655.5M402.78 648.5V655M409.85 648.5V654M416.91 648.5V653M423.98 648.5V654M431.04 648.5V655.25M438.1 648.5V655.5M445.17 648.5V656M452.23 648.5V655M459.3 648.5V654M466.36 648.5V652.25M473.42 648.5V649.75M480.49 648.5V647.25M487.55 648.5V644M494.62 648.5V642.75M501.68 648.5V642.25M508.74 648.5V641M515.81 648.5V639M522.87 648.5V637.25M529.94 648.5V636M537 648.5V633.5M544.06 648.5V632.25M551.13 648.5V631M558.19 648.5V627.75M565.26 648.5V624.75M572.32 648.5V621.75M579.38 648.5V621.5M586.45 648.5V621M593.51 648.5V620.25M600.58 648.5V620.25M607.64 648.5V621M614.7 648.5V621.75M621.77 648.5V622.25M628.83 648.5V623.5M635.9 648.5V623.5M642.96 648.5V626M650.02 648.5V626.75M657.09 648.5V626.75M664.15 648.5V626.75M671.22 648.5V627.25M678.28 648.5V628M685.34 648.5V628.5M692.41 648.5V629.25M699.47 648.5V630.25M706.54 648.5V630.25M713.6 648.5V631M720.66 648.5V631M727.73 648.5V630.5M734.79 648.5V630.5M741.86 648.5V630.25M748.92 648.5V629.25M755.98 648.5V627.25M763.05 648.5V625.5M770.11 648.5V624.25M777.18 648.5V623M784.24 648.5V622.25M791.3 648.5V624.75M798.37 648.5V624.25M805.43 648.5V626M812.5 648.5V629.25M819.56 648.5V632.75M826.62 648.5V633.5M833.69 648.5V633.5M840.75 648.5V634M847.82 648.5V633.5M854.88 648.5V635.25M861.94 648.5V637.25M869.01 648.5V639M876.07 648.5V641M883.14 648.5V643M890.2 648.5V650M897.26 648.5V657.75M904.33 648.5V662.25M911.39 648.5V666M918.46 648.5V668.5M925.52 648.5V669.75M932.58 648.5V668.5M939.65 648.5V668.5M946.71 648.5V668.5M953.78 648.5V668.5M960.84 648.5V669M967.9 648.5V670.25M974.97 648.5V670.5M982.03 648.5V671M989.1 648.5V672.25M996.16 648.5V675.5M1003.22 648.5V677.75M1010.29 648.5V677.25M1017.35 648.5V676M1024.42 648.5V675.5M1031.48 648.5V675.5M1038.54 648.5V675.5M1045.61 648.5V675.5M1052.67 648.5V673.5M1059.74 648.5V672.25M1066.8 648.5V671M1073.86 648.5V669M1080.93 648.5V666.75M1087.99 648.5V671M1095.06 648.5V672.75M1102.12 648.5V674M1109.18 648.5V674.75M1116.25 648.5V674.75M1123.31 648.5V674.25M1130.38 648.5V673.5M1137.44 648.5V671.75M1144.5 648.5V672.25" stroke="#989898" stroke-width="1.05" fill="none"/>
<polyline points="0,628 25,633.5 50,641 70,644 85,644.75 100,643 115,639 130,634.75 145,630.5 160,627.75 175,626 195,625.5 220,625.5 240,627.25 260,629.25 280,631 299.5,631.5 320,630.5 340,631.75 360,634.75 380,641 400,646.75 420,651.5 440,654.25 455,654.75 475,653 495,649.75 515,645.5 535,640.5 555,636 575,630.5 599.5,624.75 615,622.25 630,621.5 650,623 675,626.5 700,628.5 720,629.75 740,630.5 760,629.75 775,628.5 790,626.5 810,625.5 825,627.25 845,630.5 865,633.5 880,636.5 890,638 905,644.75 920,652.25 935,659.75 950,666 965,669 990,670.5 1010,673 1030,674.75 1050,675 1065,674 1080,671 1090,670.25 1105,671 1120,671.5 1135,671.75 1144,672.75" fill="none" stroke="#d01818" stroke-width="1.0" stroke-dasharray="1.4,1.4"/>
<rect x="0" y="58" width="1154.5" height="1.3" fill="#c8c8c8"/>
<rect x="0" y="59" width="1.3" height="640" fill="#b4b4b4"/>
<rect x="0" y="497.2" width="1155.0" height="1.9" fill="#b8b8b8"/>
<rect x="0" y="551.0" width="1155.0" height="1.9" fill="#b8b8b8"/>
<rect x="0" y="593.6" width="1155.0" height="1.9" fill="#b8b8b8"/>
<rect x="0" y="612.9" width="1155.0" height="1.7" fill="#b8b8b8"/>
<rect x="0" y="683" width="1155.0" height="1.1" fill="#d0d0d0"/>
<rect x="1154.0" y="58" width="1.1" height="626" fill="#d0d0d0"/>
<rect x="1196" y="59" width="1.6" height="640" fill="#b0b0b0"/>
<rect x="33" y="697.2" width="1167" height="1.8" fill="#a8a8a8"/>
<rect x="0" y="697.2" width="33" height="1.8" fill="#404040"/>
<g clip-path="url(#wmclip)">
<circle cx="1148.6" cy="650.8" r="48.5" fill="none" stroke="#fff" stroke-opacity="0.16" stroke-width="13"/>
<circle cx="1154" cy="653" r="42" fill="#fff" fill-opacity="0.045"/>
<circle cx="1159.5" cy="655.5" r="39" fill="none" stroke="#fff" stroke-opacity="0.11" stroke-width="9"/>
<circle cx="1163" cy="658" r="34.5" fill="#fff" fill-opacity="0.09"/>
<circle cx="1196.63" cy="657.55" r="1.4" fill="#000" fill-opacity="0.6"/>
<circle cx="1198.4" cy="652.78" r="1.2" fill="#000" fill-opacity="0.5"/>
<circle cx="1186.82" cy="680.66" r="1.4" fill="#000" fill-opacity="0.6"/>
<circle cx="1194.55" cy="672.6" r="1.2" fill="#000" fill-opacity="0.5"/>
<circle cx="1166.77" cy="695.77" r="1.4" fill="#000" fill-opacity="0.6"/>
<circle cx="1181.31" cy="687.83" r="1.2" fill="#000" fill-opacity="0.5"/>
<circle cx="1141.85" cy="698.83" r="1.4" fill="#000" fill-opacity="0.6"/>
<circle cx="1162.22" cy="694.4" r="1.2" fill="#000" fill-opacity="0.5"/>
<circle cx="1118.74" cy="689.02" r="1.4" fill="#000" fill-opacity="0.6"/>
<circle cx="1142.4" cy="690.55" r="1.2" fill="#000" fill-opacity="0.5"/>
<circle cx="1103.63" cy="668.97" r="1.4" fill="#000" fill-opacity="0.6"/>
<circle cx="1127.17" cy="677.31" r="1.2" fill="#000" fill-opacity="0.5"/>
<circle cx="1100.57" cy="644.05" r="1.4" fill="#000" fill-opacity="0.6"/>
<circle cx="1120.6" cy="658.22" r="1.2" fill="#000" fill-opacity="0.5"/>
<circle cx="1110.38" cy="620.94" r="1.4" fill="#000" fill-opacity="0.6"/>
<circle cx="1124.45" cy="638.4" r="1.2" fill="#000" fill-opacity="0.5"/>
<circle cx="1130.43" cy="605.83" r="1.4" fill="#000" fill-opacity="0.6"/>
<circle cx="1137.69" cy="623.17" r="1.2" fill="#000" fill-opacity="0.5"/>
<circle cx="1155.35" cy="602.77" r="1.4" fill="#000" fill-opacity="0.6"/>
<circle cx="1156.78" cy="616.6" r="1.2" fill="#000" fill-opacity="0.5"/>
<circle cx="1178.46" cy="612.58" r="1.4" fill="#000" fill-opacity="0.6"/>
<circle cx="1176.6" cy="620.45" r="1.2" fill="#000" fill-opacity="0.5"/>
<circle cx="1193.57" cy="632.63" r="1.4" fill="#000" fill-opacity="0.6"/>
<circle cx="1191.83" cy="633.69" r="1.2" fill="#000" fill-opacity="0.5"/>
<path d="M1131.4 666.4L1171.2 629.7" stroke="#fff" stroke-opacity="0.2" stroke-width="2.2"/>
<path d="M1119 671L1193.8 643" stroke="#fff" stroke-opacity="0.16" stroke-width="2.2"/>
<path d="M1163 667L1177 660" stroke="#fff" stroke-opacity="0.2" stroke-width="3"/>
<path d="M1119.7 618L1200 683.5" stroke="#a00000" stroke-opacity="0.5" stroke-width="0.9"/>
<path d="M1146 648L1166 660" stroke="#b01010" stroke-opacity="0.55" stroke-width="2.2"/>
<circle cx="1169.6" cy="661.7" r="2.2" fill="#a01010" fill-opacity="0.8"/>
</g>
<rect x="4.5" y="62.9" width="6.5" height="9.1" fill="#ffe6e6" stroke="#c82828" stroke-width="1"/>
<rect x="11" y="62.9" width="6.5" height="9.1" fill="#cfe4ff" stroke="#1c4f9c" stroke-width="1"/>
<path d="M5.4 65h4.8M5.4 69.8h4.8" stroke="#f0a0a0" stroke-width="0.9"/><path d="M5 67.4h5.6" stroke="#d82020" stroke-width="1"/>
<path d="M11.8 65h4.8M11.8 69.8h4.8" stroke="#8fb4e8" stroke-width="0.9"/><path d="M11.4 67.4h5.6" stroke="#1c50a8" stroke-width="1"/>
<path d="M23.2 62.8h3.6v5h2.4v4.4h-6z" fill="#ffd8d8" stroke="#d02828" stroke-width="0.9"/>
<path d="M33.2 62.9h3v9.3h-6v-3.6h3z" fill="#cfe4ff" stroke="#2a62b8" stroke-width="0.9"/>
<rect x="27.6" y="63" width="4" height="2" fill="#d8d8d8" stroke="#606060" stroke-width="0.5"/>
<text x="1093" y="72.4" font-size="10.7" fill="#fff" stroke="#fff" stroke-width="0.35" text-anchor="start" textLength="60.7" lengthAdjust="spacingAndGlyphs" font-family="Liberation Sans, Noto Sans CJK JP, sans-serif">次の足まで0</text>
<text x="1092.3" y="82.6" font-size="10.7" fill="#fff" stroke="#fff" stroke-width="0.35" text-anchor="start" textLength="59" lengthAdjust="spacingAndGlyphs" font-family="Liberation Sans, Noto Sans CJK JP, sans-serif">スプレッド:21</text>
<g stroke="#fff" stroke-width="0.15">
<path d="M1154.5 73.2h2.5" stroke="#d0d0d0" stroke-width="1"/>
<text x="1156.8" y="76.3" font-size="8.6" fill="#fff" text-anchor="start" font-weight="normal" textLength="28.5" lengthAdjust="spacingAndGlyphs" font-family="Liberation Sans, sans-serif">151.400</text>
<path d="M1154.5 101.49h2.5" stroke="#d0d0d0" stroke-width="1"/>
<text x="1156.8" y="104.59" font-size="8.6" fill="#fff" text-anchor="start" font-weight="normal" textLength="28.5" lengthAdjust="spacingAndGlyphs" font-family="Liberation Sans, sans-serif">149.720</text>
<path d="M1154.5 129.78h2.5" stroke="#d0d0d0" stroke-width="1"/>
<text x="1156.8" y="132.88" font-size="8.6" fill="#fff" text-anchor="start" font-weight="normal" textLength="28.5" lengthAdjust="spacingAndGlyphs" font-family="Liberation Sans, sans-serif">148.040</text>
<path d="M1154.5 158.07h2.5" stroke="#d0d0d0" stroke-width="1"/>
<text x="1156.8" y="161.17" font-size="8.6" fill="#fff" text-anchor="start" font-weight="normal" textLength="28.5" lengthAdjust="spacingAndGlyphs" font-family="Liberation Sans, sans-serif">146.360</text>
<path d="M1154.5 186.36h2.5" stroke="#d0d0d0" stroke-width="1"/>
<text x="1156.8" y="189.46" font-size="8.6" fill="#fff" text-anchor="start" font-weight="normal" textLength="28.5" lengthAdjust="spacingAndGlyphs" font-family="Liberation Sans, sans-serif">144.680</text>
<path d="M1154.5 214.65h2.5" stroke="#d0d0d0" stroke-width="1"/>
<text x="1156.8" y="217.75" font-size="8.6" fill="#fff" text-anchor="start" font-weight="normal" textLength="28.5" lengthAdjust="spacingAndGlyphs" font-family="Liberation Sans, sans-serif">143.000</text>
<path d="M1154.5 242.94h2.5" stroke="#d0d0d0" stroke-width="1"/>
<text x="1156.8" y="246.04" font-size="8.6" fill="#fff" text-anchor="start" font-weight="normal" textLength="28.5" lengthAdjust="spacingAndGlyphs" font-family="Liberation Sans, sans-serif">141.320</text>
<path d="M1154.5 271.23h2.5" stroke="#d0d0d0" stroke-width="1"/>
<text x="1156.8" y="274.33" font-size="8.6" fill="#fff" text-anchor="start" font-weight="normal" textLength="28.5" lengthAdjust="spacingAndGlyphs" font-family="Liberation Sans, sans-serif">139.640</text>
<path d="M1154.5 299.52h2.5" stroke="#d0d0d0" stroke-width="1"/>
<text x="1156.8" y="302.62" font-size="8.6" fill="#fff" text-anchor="start" font-weight="normal" textLength="28.5" lengthAdjust="spacingAndGlyphs" font-family="Liberation Sans, sans-serif">137.960</text>
<path d="M1154.5 327.81h2.5" stroke="#d0d0d0" stroke-width="1"/>
<text x="1156.8" y="330.91" font-size="8.6" fill="#fff" text-anchor="start" font-weight="normal" textLength="28.5" lengthAdjust="spacingAndGlyphs" font-family="Liberation Sans, sans-serif">136.280</text>
<path d="M1154.5 356.1h2.5" stroke="#d0d0d0" stroke-width="1"/>
<text x="1156.8" y="359.2" font-size="8.6" fill="#fff" text-anchor="start" font-weight="normal" textLength="28.5" lengthAdjust="spacingAndGlyphs" font-family="Liberation Sans, sans-serif">134.600</text>
<path d="M1154.5 384.39h2.5" stroke="#d0d0d0" stroke-width="1"/>
<text x="1156.8" y="387.49" font-size="8.6" fill="#fff" text-anchor="start" font-weight="normal" textLength="28.5" lengthAdjust="spacingAndGlyphs" font-family="Liberation Sans, sans-serif">132.920</text>
<path d="M1154.5 412.68h2.5" stroke="#d0d0d0" stroke-width="1"/>
<text x="1156.8" y="415.78" font-size="8.6" fill="#fff" text-anchor="start" font-weight="normal" textLength="28.5" lengthAdjust="spacingAndGlyphs" font-family="Liberation Sans, sans-serif">131.240</text>
<path d="M1154.5 440.97h2.5" stroke="#d0d0d0" stroke-width="1"/>
<text x="1156.8" y="444.07" font-size="8.6" fill="#fff" text-anchor="start" font-weight="normal" textLength="28.5" lengthAdjust="spacingAndGlyphs" font-family="Liberation Sans, sans-serif">129.560</text>
<path d="M1154.5 469.26h2.5" stroke="#d0d0d0" stroke-width="1"/>
<text x="1156.8" y="472.36" font-size="8.6" fill="#fff" text-anchor="start" font-weight="normal" textLength="28.5" lengthAdjust="spacingAndGlyphs" font-family="Liberation Sans, sans-serif">127.880</text>
</g>
<rect x="1155.0" y="409" width="34.8" height="10.4" fill="#8a96a2"/>
<text x="1157.3" y="417.3" font-size="8.6" fill="#202020" text-anchor="start" font-weight="normal" textLength="28.5" lengthAdjust="spacingAndGlyphs" font-family="Liberation Sans, sans-serif" stroke="#202020" stroke-width="0.05">131.085</text>
<rect x="1155.0" y="91.2" width="34.8" height="10.4" fill="#00ff00"/>
<text x="1157.3" y="99.5" font-size="8.6" fill="#002800" text-anchor="start" font-weight="normal" textLength="28.5" lengthAdjust="spacingAndGlyphs" font-family="Liberation Sans, sans-serif" stroke="#002800" stroke-width="0.05">150.005</text>
<rect x="1155.0" y="171.8" width="34.8" height="10.4" fill="#00e0e0"/>
<text x="1157.3" y="180.1" font-size="8.6" fill="#003838" text-anchor="start" font-weight="normal" textLength="28.5" lengthAdjust="spacingAndGlyphs" font-family="Liberation Sans, sans-serif" stroke="#003838" stroke-width="0.05">145.203</text>
<rect x="1155.0" y="259.4" width="34.8" height="10.4" fill="#b8dcdc"/>
<text x="1157.3" y="267.7" font-size="8.6" fill="#203838" text-anchor="start" font-weight="normal" textLength="28.5" lengthAdjust="spacingAndGlyphs" font-family="Liberation Sans, sans-serif" stroke="#203838" stroke-width="0.05">140.002</text>
<rect x="1155.0" y="294.8" width="34.8" height="10.4" fill="#f4f400"/>
<text x="1157.3" y="303.1" font-size="8.6" fill="#303000" text-anchor="start" font-weight="normal" textLength="28.5" lengthAdjust="spacingAndGlyphs" font-family="Liberation Sans, sans-serif" stroke="#303000" stroke-width="0.05">137.887</text>
<rect x="1155.0" y="349.8" width="34.8" height="10.4" fill="#f000f0"/>
<text x="1157.3" y="358.1" font-size="8.6" fill="#380038" text-anchor="start" font-weight="normal" textLength="28.5" lengthAdjust="spacingAndGlyphs" font-family="Liberation Sans, sans-serif" stroke="#380038" stroke-width="0.05">134.630</text>
<rect x="1155.0" y="412.6" width="34.8" height="10.4" fill="#00ff00"/>
<text x="1157.3" y="420.9" font-size="8.6" fill="#002800" text-anchor="start" font-weight="normal" textLength="28.5" lengthAdjust="spacingAndGlyphs" font-family="Liberation Sans, sans-serif" stroke="#002800" stroke-width="0.05">130.897</text>
<rect x="1155.0" y="489.6" width="34.8" height="10.4" fill="#f4f400"/>
<text x="1157.3" y="497.9" font-size="8.6" fill="#303000" text-anchor="start" font-weight="normal" textLength="28.5" lengthAdjust="spacingAndGlyphs" font-family="Liberation Sans, sans-serif" stroke="#303000" stroke-width="0.05">126.351</text>
<g stroke="#fff" stroke-width="0.15">
<text x="1156.8" y="505.2" font-size="8.6" fill="#fff" text-anchor="start" font-weight="normal" textLength="24.5" lengthAdjust="spacingAndGlyphs" font-family="Liberation Sans, sans-serif">100.00</text>
<text x="1156.8" y="511.7" font-size="8.6" fill="#fff" text-anchor="start" font-weight="normal" textLength="20.5" lengthAdjust="spacingAndGlyphs" font-family="Liberation Sans, sans-serif">80.00</text>
<text x="1156.8" y="543.8" font-size="8.6" fill="#fff" text-anchor="start" font-weight="normal" textLength="20.5" lengthAdjust="spacingAndGlyphs" font-family="Liberation Sans, sans-serif">20.00</text>
<text x="1156.8" y="548.9" font-size="8.6" fill="#fff" text-anchor="start" font-weight="normal" textLength="16.5" lengthAdjust="spacingAndGlyphs" font-family="Liberation Sans, sans-serif">0.00</text>
<text x="1156.8" y="560.2" font-size="8.6" fill="#fff" text-anchor="start" font-weight="normal" textLength="24.8" lengthAdjust="spacingAndGlyphs" font-family="Liberation Sans, sans-serif">301028</text>
<text x="1156.8" y="591.8" font-size="8.6" fill="#fff" text-anchor="start" font-weight="normal" textLength="4.2" lengthAdjust="spacingAndGlyphs" font-family="Liberation Sans, sans-serif">0</text>
<text x="1156.8" y="603.2" font-size="8.6" fill="#fff" text-anchor="start" font-weight="normal" textLength="4.2" lengthAdjust="spacingAndGlyphs" font-family="Liberation Sans, sans-serif">3</text>
<text x="1156.8" y="611" font-size="8.6" fill="#fff" text-anchor="start" font-weight="normal" textLength="4.2" lengthAdjust="spacingAndGlyphs" font-family="Liberation Sans, sans-serif">0</text>
<text x="1156.8" y="622.4" font-size="8.6" fill="#fff" text-anchor="start" font-weight="normal" textLength="24.5" lengthAdjust="spacingAndGlyphs" font-family="Liberation Sans, sans-serif">2.6744</text>
<text x="1156.8" y="650.8" font-size="8.6" fill="#fff" text-anchor="start" font-weight="normal" textLength="24.5" lengthAdjust="spacingAndGlyphs" font-family="Liberation Sans, sans-serif">0.0000</text>
<text x="1156.8" y="681.2" font-size="8.6" fill="#fff" text-anchor="start" font-weight="normal" textLength="27.5" lengthAdjust="spacingAndGlyphs" font-family="Liberation Sans, sans-serif">-2.8016</text>
<text x="2.5" y="508.3" font-size="8.6" fill="#fff" text-anchor="start" font-weight="normal" textLength="91" lengthAdjust="spacingAndGlyphs" font-family="Liberation Sans, sans-serif">Stoch(5,3,3) 45.27 61.27</text>
<text x="2.5" y="561.5" font-size="8.6" fill="#fff" text-anchor="start" font-weight="normal" textLength="60" lengthAdjust="spacingAndGlyphs" font-family="Liberation Sans, sans-serif">Volumes 113707</text>
<text x="2.5" y="624.8" font-size="8.6" fill="#fff" text-anchor="start" font-weight="normal" textLength="115.5" lengthAdjust="spacingAndGlyphs" font-family="Liberation Sans, sans-serif">MACD(12,26,9) -1.9217 -1.9501</text>
<text x="41" y="70.7" font-size="8.6" fill="#fff" text-anchor="start" font-weight="normal" textLength="120.3" lengthAdjust="spacingAndGlyphs" font-family="Liberation Sans, sans-serif" style="white-space:pre">USDJPY, Daily:  US Dollar vs Yen</text>
</g>
<g stroke="#fff" stroke-width="0.22">
<path d="M0.6 683.5v3" stroke="#d0d0d0" stroke-width="1"/>
<text x="-0.4" y="693.6" font-size="8.5" fill="#fff" text-anchor="start" font-weight="normal" textLength="46.04" lengthAdjust="spacingAndGlyphs" font-family="Liberation Sans, sans-serif">18 May 2022</text>
<path d="M56.65 683.5v3" stroke="#d0d0d0" stroke-width="1"/>
<text x="56.85" y="693.6" font-size="8.5" fill="#fff" text-anchor="start" font-weight="normal" textLength="46.04" lengthAdjust="spacingAndGlyphs" font-family="Liberation Sans, sans-serif">30 May 2022</text>
<path d="M113.16 683.5v3" stroke="#d0d0d0" stroke-width="1"/>
<text x="113.36" y="693.6" font-size="8.5" fill="#fff" text-anchor="start" font-weight="normal" textLength="39.41" lengthAdjust="spacingAndGlyphs" font-family="Liberation Sans, sans-serif">9 Jun 2022</text>
<path d="M169.67 683.5v3" stroke="#d0d0d0" stroke-width="1"/>
<text x="169.87" y="693.6" font-size="8.5" fill="#fff" text-anchor="start" font-weight="normal" textLength="43.84" lengthAdjust="spacingAndGlyphs" font-family="Liberation Sans, sans-serif">21 Jun 2022</text>
<path d="M226.18 683.5v3" stroke="#d0d0d0" stroke-width="1"/>
<text x="226.38" y="693.6" font-size="8.5" fill="#fff" text-anchor="start" font-weight="normal" textLength="36.75" lengthAdjust="spacingAndGlyphs" font-family="Liberation Sans, sans-serif">1 Jul 2022</text>
<path d="M282.7 683.5v3" stroke="#d0d0d0" stroke-width="1"/>
<text x="282.9" y="693.6" font-size="8.5" fill="#fff" text-anchor="start" font-weight="normal" textLength="41.18" lengthAdjust="spacingAndGlyphs" font-family="Liberation Sans, sans-serif">13 Jul 2022</text>
<path d="M339.21 683.5v3" stroke="#d0d0d0" stroke-width="1"/>
<text x="339.41" y="693.6" font-size="8.5" fill="#fff" text-anchor="start" font-weight="normal" textLength="41.18" lengthAdjust="spacingAndGlyphs" font-family="Liberation Sans, sans-serif">25 Jul 2022</text>
<path d="M395.72 683.5v3" stroke="#d0d0d0" stroke-width="1"/>
<text x="395.92" y="693.6" font-size="8.5" fill="#fff" text-anchor="start" font-weight="normal" textLength="40.3" lengthAdjust="spacingAndGlyphs" font-family="Liberation Sans, sans-serif">4 Aug 2022</text>
<path d="M452.23 683.5v3" stroke="#d0d0d0" stroke-width="1"/>
<text x="452.43" y="693.6" font-size="8.5" fill="#fff" text-anchor="start" font-weight="normal" textLength="44.73" lengthAdjust="spacingAndGlyphs" font-family="Liberation Sans, sans-serif">16 Aug 2022</text>
<path d="M508.74 683.5v3" stroke="#d0d0d0" stroke-width="1"/>
<text x="508.94" y="693.6" font-size="8.5" fill="#fff" text-anchor="start" font-weight="normal" textLength="44.73" lengthAdjust="spacingAndGlyphs" font-family="Liberation Sans, sans-serif">26 Aug 2022</text>
<path d="M565.26 683.5v3" stroke="#d0d0d0" stroke-width="1"/>
<text x="565.46" y="693.6" font-size="8.5" fill="#fff" text-anchor="start" font-weight="normal" textLength="40.74" lengthAdjust="spacingAndGlyphs" font-family="Liberation Sans, sans-serif">7 Sep 2022</text>
<path d="M621.77 683.5v3" stroke="#d0d0d0" stroke-width="1"/>
<text x="621.97" y="693.6" font-size="8.5" fill="#fff" text-anchor="start" font-weight="normal" textLength="45.17" lengthAdjust="spacingAndGlyphs" font-family="Liberation Sans, sans-serif">19 Sep 2022</text>
<path d="M678.28 683.5v3" stroke="#d0d0d0" stroke-width="1"/>
<text x="678.48" y="693.6" font-size="8.5" fill="#fff" text-anchor="start" font-weight="normal" textLength="45.17" lengthAdjust="spacingAndGlyphs" font-family="Liberation Sans, sans-serif">29 Sep 2022</text>
<path d="M734.79 683.5v3" stroke="#d0d0d0" stroke-width="1"/>
<text x="734.99" y="693.6" font-size="8.5" fill="#fff" text-anchor="start" font-weight="normal" textLength="42.8" lengthAdjust="spacingAndGlyphs" font-family="Liberation Sans, sans-serif">11 Oct 2022</text>
<path d="M791.3 683.5v3" stroke="#d0d0d0" stroke-width="1"/>
<text x="791.5" y="693.6" font-size="8.5" fill="#fff" text-anchor="start" font-weight="normal" textLength="43.39" lengthAdjust="spacingAndGlyphs" font-family="Liberation Sans, sans-serif">21 Oct 2022</text>
<path d="M847.82 683.5v3" stroke="#d0d0d0" stroke-width="1"/>
<text x="848.02" y="693.6" font-size="8.5" fill="#fff" text-anchor="start" font-weight="normal" textLength="40.73" lengthAdjust="spacingAndGlyphs" font-family="Liberation Sans, sans-serif">2 Nov 2022</text>
<path d="M904.33 683.5v3" stroke="#d0d0d0" stroke-width="1"/>
<text x="904.53" y="693.6" font-size="8.5" fill="#fff" text-anchor="start" font-weight="normal" textLength="45.16" lengthAdjust="spacingAndGlyphs" font-family="Liberation Sans, sans-serif">14 Nov 2022</text>
<path d="M960.84 683.5v3" stroke="#d0d0d0" stroke-width="1"/>
<text x="961.04" y="693.6" font-size="8.5" fill="#fff" text-anchor="start" font-weight="normal" textLength="45.16" lengthAdjust="spacingAndGlyphs" font-family="Liberation Sans, sans-serif">24 Nov 2022</text>
<path d="M1017.35 683.5v3" stroke="#d0d0d0" stroke-width="1"/>
<text x="1017.55" y="693.6" font-size="8.5" fill="#fff" text-anchor="start" font-weight="normal" textLength="40.73" lengthAdjust="spacingAndGlyphs" font-family="Liberation Sans, sans-serif">6 Dec 2022</text>
<path d="M1073.86 683.5v3" stroke="#d0d0d0" stroke-width="1"/>
<text x="1074.06" y="693.6" font-size="8.5" fill="#fff" text-anchor="start" font-weight="normal" textLength="45.16" lengthAdjust="spacingAndGlyphs" font-family="Liberation Sans, sans-serif">16 Dec 2022</text>
<path d="M1130.38 683.5v3" stroke="#d0d0d0" stroke-width="1"/>
<text x="1130.58" y="693.6" font-size="8.5" fill="#fff" text-anchor="start" font-weight="normal" textLength="45.16" lengthAdjust="spacingAndGlyphs" font-family="Liberation Sans, sans-serif">28 Dec 2022</text>
</g>
<rect x="0" y="0" width="1200" height="59" fill="#f0f0f0"/>
<rect x="0" y="0" width="1200" height="1" fill="#e4e4e4"/>
<rect x="0" y="27.7" width="912" height="1" fill="#d2d2d2"/>
<rect x="0" y="28.7" width="912" height="0.9" fill="#fafafa"/>
<rect x="911.2" y="2" width="1" height="26.5" fill="#d2d2d2"/>
<rect x="258.2" y="29.5" width="1" height="27" fill="#d2d2d2"/>
<rect x="0" y="56.4" width="1200" height="1.2" fill="#c4c4c4"/>
<rect x="0" y="57.6" width="1200" height="1.4" fill="#e8e8e8"/>
<rect x="1.4" y="4.0" width="1.1" height="1.1" fill="#d6d6d6"/>
<rect x="1.4" y="6.8" width="1.1" height="1.1" fill="#d6d6d6"/>
<rect x="1.4" y="9.6" width="1.1" height="1.1" fill="#d6d6d6"/>
<rect x="1.4" y="12.4" width="1.1" height="1.1" fill="#d6d6d6"/>
<rect x="1.4" y="15.2" width="1.1" height="1.1" fill="#d6d6d6"/>
<rect x="1.4" y="18.0" width="1.1" height="1.1" fill="#d6d6d6"/>
<rect x="1.4" y="20.8" width="1.1" height="1.1" fill="#d6d6d6"/>
<rect x="1.4" y="23.6" width="1.1" height="1.1" fill="#d6d6d6"/>
<rect x="1.4" y="32.0" width="1.1" height="1.1" fill="#d6d6d6"/>
<rect x="1.4" y="34.8" width="1.1" height="1.1" fill="#d6d6d6"/>
<rect x="1.4" y="37.6" width="1.1" height="1.1" fill="#d6d6d6"/>
<rect x="1.4" y="40.4" width="1.1" height="1.1" fill="#d6d6d6"/>
<rect x="1.4" y="43.2" width="1.1" height="1.1" fill="#d6d6d6"/>
<rect x="1.4" y="46.0" width="1.1" height="1.1" fill="#d6d6d6"/>
<rect x="1.4" y="48.8" width="1.1" height="1.1" fill="#d6d6d6"/>
<rect x="1.4" y="51.6" width="1.1" height="1.1" fill="#d6d6d6"/>
<rect x="6" y="30.2" width="25.6" height="24.6" fill="#c4dcf3"/>
<rect x="443.9" y="2" width="25.4" height="24.2" fill="#c4dcf3"/>
<rect x="581.3" y="2" width="25.6" height="24.2" fill="#c4dcf3"/>
<rect x="831" y="2" width="25.9" height="24.6" fill="#c4dcf3"/>
<rect x="107.10000000000001" y="3" width="1.2" height="23" fill="#cfcfcf"/>
<rect x="242.70000000000002" y="3" width="1.2" height="23" fill="#cfcfcf"/>
<rect x="414.7" y="3" width="1.2" height="23" fill="#cfcfcf"/>
<rect x="496.7" y="3" width="1.2" height="23" fill="#cfcfcf"/>
<rect x="578.8" y="3" width="1.2" height="23" fill="#cfcfcf"/>
<rect x="634.6999999999999" y="3" width="1.2" height="23" fill="#cfcfcf"/>
<rect x="58.9" y="31" width="1.2" height="24" fill="#c2c2c2"/>
<path d="M665.7 2V27M667.9 2V27" stroke="#c0c0c0" stroke-width="0.9" stroke-dasharray="1,1.2"/>
<path d="M11.3 7V21.5H26" stroke="#a8a8a8" stroke-width="1" fill="none"/>
<path d="M13.3 13.4L16.6 11.6L20.6 16.2L25.3 11.4" stroke="#4480c8" stroke-width="1.2" fill="none" stroke-linejoin="round"/>
<path d="M32.9 12.9h5.8l-2.9 3.3z" fill="#1a1a1a"/>
<rect x="47.9" y="6.6" width="15.6" height="12.2" rx="1.6" fill="#fff" stroke="#4480c8" stroke-width="1"/>
<path d="M48.6 19.6h14.2M50.3 19.6l1.2 2.2h8.4l1.2-2.2" stroke="#4480c8" stroke-width="1" fill="none"/>
<path d="M50.3 12.3L52.8 10.4L55.6 11.6L58 10.2L60.9 8.9" stroke="#4480c8" stroke-width="1" fill="none"/>
<path d="M50.9 16.6V15M53.2 16.6V13.8M55.6 16.6V14.8M58 16.6V14M60.4 16.6V13" stroke="#5fc05f" stroke-width="1"/>
<path d="M70.6 12.9h5.8l-2.9 3.3z" fill="#1a1a1a"/>
<rect x="86.7" y="7.2" width="14.2" height="14.4" rx="1.8" fill="#ffcb05" stroke="#eaa600" stroke-width="1"/>
<text x="93.8" y="18.4" font-size="11" text-anchor="middle" fill="#b87800" font-family="Liberation Sans, sans-serif">$</text>
<text x="114.7" y="18.8" font-size="11.4" fill="#4480c8" textLength="16" lengthAdjust="spacingAndGlyphs" font-family="Liberation Sans, sans-serif">IDE</text>
<path d="M146 11.8V9.6a2.2 2.2 0 0 1 2.2-2.2h1a2.2 2.2 0 0 1 2.2 2.2V11.8M147.9 11.8V9.6a2.2 2.2 0 0 1 2.2-2.2h0.8a2.2 2.2 0 0 1 2.2 2.2V11.8" stroke="#d89400" stroke-width="0.9" fill="none"/>
<path d="M144.2 11.5h10.4l1.1 10.2h-12.6z" fill="#ffd400" stroke="#eaa400" stroke-width="0.9" stroke-linejoin="round"/>
<circle cx="175.6" cy="14.5" r="1.6" fill="#cde3f7" stroke="#4480c8" stroke-width="1"/>
<path d="M173.0 11.2a4.4 4.4 0 0 0 0 6.6M178.2 11.2a4.4 4.4 0 0 1 0 6.6M170.4 9.1a7.6 7.6 0 0 0 0 10.8M180.79999999999998 9.1a7.6 7.6 0 0 1 0 10.8" stroke="#4480c8" stroke-width="1" fill="none"/>
<path d="M198 16.7a3.1 3.1 0 0 1 -0.3 -6.2a3.6 3.6 0 0 1 6.6 -1.6a3 3 0 0 1 3.6 2.3a2.8 2.8 0 0 1 -0.8 5.5z" fill="#cde3f7" stroke="#4480c8" stroke-width="1" stroke-linejoin="round"/>
<path d="M202.2 16.9V19.2M194.8 19.2H209.8" stroke="#4480c8" stroke-width="1"/>
<circle cx="202.2" cy="19.6" r="1.1" fill="#4480c8"/>
<path d="M235.6 14.4A7.4 7.4 0 1 0 226.7 21.2M233.1 14.3A4.9 4.9 0 1 0 227.2 18.7M230.6 13.9A2.4 2.4 0 1 0 228.2 16.3" stroke="#4480c8" stroke-width="1" fill="none"/>
<circle cx="228.2" cy="13.9" r="1" fill="#cde3f7" stroke="#4480c8" stroke-width="0.6"/>
<circle cx="232.3" cy="18.1" r="4.3" fill="#d9f5d9" stroke="#2fb84a" stroke-width="1"/>
<path d="M229.7 18.1h5.2M232.3 15.5v5.2" stroke="#2fb84a" stroke-width="1.2"/>
<rect x="252.8" y="10" width="9.3" height="9" rx="1" fill="#ffd9d0" stroke="#e0605a" stroke-width="1"/>
<text x="269" y="18.9" font-size="9.6" fill="#333" text-anchor="start" textLength="67.9" lengthAdjust="spacingAndGlyphs" font-family="Liberation Sans, Noto Sans CJK JP, sans-serif">アルゴリズム取引</text>
<text x="367.5" y="18.9" font-size="10.4" fill="#333" text-anchor="start" textLength="41.5" lengthAdjust="spacingAndGlyphs" font-family="Liberation Sans, Noto Sans CJK JP, sans-serif">新規注文</text>
<path d="M352.8 7.2h7.6a1.3 1.3 0 0 1 1.3 1.3v10l-3.2 3.3h-5.7a1.3 1.3 0 0 1 -1.3 -1.3V8.5a1.3 1.3 0 0 1 1.3 -1.3z" fill="#fff" stroke="#4480c8" stroke-width="1"/>
<path d="M361.7 18.5l-3.2 3.3v-3.3z" fill="#4480c8"/>
<path d="M353.8 13.4h4.6M356.1 11.1v4.6" stroke="#1f4e8c" stroke-width="1"/>
<path d="M425.3 11.7V21.3M422.6 18.6h2.7M425.3 13.8h2.7M434.9 6.9V17.2M432.2 9.9h2.7M434.9 15.4h2.7" stroke="#2fb52f" stroke-width="1.2" fill="none"/>
<path d="M453 7.6V20.6M460.3 6.9V21.3" stroke="#2fb52f" stroke-width="1"/>
<rect x="451.1" y="9.4" width="3.8" height="9.2" rx="0.8" fill="#dcffdc" stroke="#2fb52f" stroke-width="1"/>
<rect x="458.4" y="9.4" width="3.8" height="9.9" rx="0.8" fill="#dcffdc" stroke="#2fb52f" stroke-width="1"/>
<path d="M475.5 16.8L478 16.2L479.6 12.4L481.7 14.4L483.4 17.9L486.5 10.3L488.6 13.8L490.6 13.8" stroke="#2fb52f" stroke-width="1.2" fill="none" stroke-linejoin="round"/>
<path d="M514.1 16.5L519.5 21.6" stroke="#4480c8" stroke-width="1.3"/>
<circle cx="510.3" cy="12.7" r="5.2" fill="#cde3f7" stroke="#4480c8" stroke-width="1"/>
<path d="M507.5 12.7h5.6M510.3 9.9v5.6" stroke="#4480c8" stroke-width="1"/>
<path d="M540.5 16.5L545.9000000000001 21.6" stroke="#4480c8" stroke-width="1.3"/>
<circle cx="536.7" cy="12.7" r="5.2" fill="#cde3f7" stroke="#4480c8" stroke-width="1"/>
<path d="M533.9000000000001 12.7h5.6" stroke="#4480c8" stroke-width="1"/>
<rect x="558.2" y="7.3" width="14.2" height="14.2" rx="1.6" fill="#cde3f7" stroke="#4480c8" stroke-width="1"/>
<path d="M565.3 7.3V21.5M558.2 14.4H572.4" stroke="#4480c8" stroke-width="1"/>
<path d="M587.6 7.9V19.3M590.9 7.9V19.3" stroke="#2fb52f" stroke-width="0.9"/>
<rect x="586.5" y="9.3" width="2.2" height="8.4" rx="0.6" fill="#dcffdc" stroke="#2fb52f" stroke-width="0.9"/>
<rect x="589.8" y="9.3" width="2.2" height="8.4" rx="0.6" fill="#dcffdc" stroke="#2fb52f" stroke-width="0.9"/>
<path d="M594 13.8h5.4M597.2 11.4l2.4 2.4l-2.4 2.4" stroke="#2fb52f" stroke-width="1" fill="none"/>
<path d="M602.3 7.6V19.3" stroke="#4480c8" stroke-width="1.2"/>
<path d="M586.2 22H603" stroke="#a6a6a6" stroke-width="0.8"/>
<path d="M613.7 7.9V19.3M617.2 7.9V19.3" stroke="#2fb52f" stroke-width="0.9"/>
<rect x="612.6" y="9.3" width="2.2" height="8.4" rx="0.6" fill="#dcffdc" stroke="#2fb52f" stroke-width="0.9"/>
<rect x="616.1" y="9.3" width="2.2" height="8.4" rx="0.6" fill="#dcffdc" stroke="#2fb52f" stroke-width="0.9"/>
<path d="M620.6 7.6V19.3" stroke="#4480c8" stroke-width="1.2"/>
<path d="M629 13.8h-5.4M625.8 11.4l-2.4 2.4l2.4 2.4" stroke="#4480c8" stroke-width="1" fill="none"/>
<path d="M612.4 22H629.1" stroke="#a6a6a6" stroke-width="0.8"/>
<path d="M646 22H643.3a1.8 1.8 0 0 1 -1.8 -1.8V8a1.8 1.8 0 0 1 1.8 -1.8H656.2a1.8 1.8 0 0 1 1.8 1.8V12.5" stroke="#4480c8" stroke-width="1" fill="none" stroke-dasharray="2,1.6"/>
<path d="M646.6 14.6h2.6l1-1.6h3.8l1 1.6h2.6v7.2h-11z" fill="#cde3f7" stroke="#4480c8" stroke-width="1" stroke-linejoin="round"/>
<circle cx="652.1" cy="18" r="1.9" fill="#fff" stroke="#4480c8" stroke-width="1"/>
<text x="678.3" y="18.8" font-size="9.9" fill="#2f6db5" textLength="13.6" lengthAdjust="spacingAndGlyphs" font-family="Liberation Sans, sans-serif">M1</text>
<text x="705" y="18.8" font-size="9.9" fill="#2f6db5" textLength="14.0" lengthAdjust="spacingAndGlyphs" font-family="Liberation Sans, sans-serif">M5</text>
<text x="728.8" y="18.8" font-size="9.9" fill="#2f6db5" textLength="19.3" lengthAdjust="spacingAndGlyphs" font-family="Liberation Sans, sans-serif">M15</text>
<text x="755.4" y="18.8" font-size="9.9" fill="#2f6db5" textLength="19.8" lengthAdjust="spacingAndGlyphs" font-family="Liberation Sans, sans-serif">M30</text>
<text x="785.6" y="18.8" font-size="9.9" fill="#2f6db5" textLength="11.5" lengthAdjust="spacingAndGlyphs" font-family="Liberation Sans, sans-serif">H1</text>
<text x="812.1" y="18.8" font-size="9.9" fill="#2f6db5" textLength="12.1" lengthAdjust="spacingAndGlyphs" font-family="Liberation Sans, sans-serif">H4</text>
<text x="838.3" y="18.8" font-size="9.9" fill="#2f6db5" textLength="11.3" lengthAdjust="spacingAndGlyphs" font-family="Liberation Sans, sans-serif">D1</text>
<text x="863.8" y="18.8" font-size="9.9" fill="#2f6db5" textLength="13.9" lengthAdjust="spacingAndGlyphs" font-family="Liberation Sans, sans-serif">W1</text>
<text x="889.4" y="18.8" font-size="9.9" fill="#2f6db5" textLength="16.0" lengthAdjust="spacingAndGlyphs" font-family="Liberation Sans, sans-serif">MN</text>
<circle cx="1076" cy="13.3" r="4.7" fill="none" stroke="#3a3a3a" stroke-width="1"/>
<path d="M1079.4 16.7L1082.6 20" stroke="#3a3a3a" stroke-width="1.2"/>
<circle cx="1104" cy="14.2" r="5.1" fill="none" stroke="#3a3a3a" stroke-width="1"/>
<circle cx="1104" cy="12.6" r="1.9" fill="none" stroke="#3a3a3a" stroke-width="1"/>
<path d="M1100.4 17.8a3.8 3.8 0 0 1 7.2 0" fill="none" stroke="#3a3a3a" stroke-width="1"/>
<circle cx="1111.3" cy="10.7" r="6.7" fill="#e63b2e"/>
<text x="1111.3" y="14.6" font-size="10.5" font-weight="bold" text-anchor="middle" fill="#fff" font-family="Liberation Sans, sans-serif">1</text>
<path d="M1140.6 7.2l3.6 3.6h-2v3.6h-3.2v-3.6h-2z" fill="#e4f7e4" stroke="#2faa3f" stroke-width="1" stroke-linejoin="round"/>
<text x="1135.2" y="20.9" font-size="5.6" font-weight="bold" fill="#2faa3f" textLength="10.8" lengthAdjust="spacingAndGlyphs" font-family="Liberation Sans, sans-serif">LVL</text>
<rect x="1153.6" y="8.4" width="38" height="12.8" fill="#fff" stroke="#c6c6c6" stroke-width="0.9"/>
<rect x="1154.3" y="9.1" width="8.4" height="11.4" fill="#3fd63f"/>
<path d="M13.4 37.2L23.6 41.4L19.6 43.2L23.4 47.2L21.6 48.8L17.9 44.8L16.2 48.6z" fill="#cde3f7" stroke="#4480c8" stroke-width="1" stroke-linejoin="round"/>
<path d="M37.8 42.6H52.4M45.1 35.4V49.8" stroke="#4480c8" stroke-width="1"/>
<circle cx="45.1" cy="42.6" r="1.6" fill="#cde3f7" stroke="#4480c8" stroke-width="1"/>
<path d="M74.2 34.4V51" stroke="#4480c8" stroke-width="1"/>
<circle cx="74.2" cy="42.8" r="1.7" fill="#cde3f7" stroke="#4480c8" stroke-width="1"/>
<path d="M92.4 42.7H109" stroke="#4480c8" stroke-width="1"/>
<circle cx="100.6" cy="42.7" r="1.7" fill="#cde3f7" stroke="#4480c8" stroke-width="1"/>
<path d="M121 48.9L133.6 36.8" stroke="#4480c8" stroke-width="1"/>
<circle cx="121" cy="48.9" r="1.7" fill="#cde3f7" stroke="#4480c8" stroke-width="1"/><circle cx="133.6" cy="36.8" r="1.7" fill="#cde3f7" stroke="#4480c8" stroke-width="1"/>
<path d="M147.5 43.8L154.6 36.8M153 48.7L161.7 40.3" stroke="#4480c8" stroke-width="1"/>
<circle cx="147.5" cy="43.8" r="1.7" fill="#cde3f7" stroke="#4480c8" stroke-width="1"/>
<circle cx="154.6" cy="36.8" r="1.7" fill="#cde3f7" stroke="#4480c8" stroke-width="1"/>
<circle cx="153" cy="48.7" r="1.7" fill="#cde3f7" stroke="#4480c8" stroke-width="1"/>
<path d="M172 35.8H188.2M172 44.5H188.2" stroke="#4480c8" stroke-width="1"/>
<path d="M172 40.3H186.5M174 48.7H188.2" stroke="#8fb2dc" stroke-width="1"/>
<circle cx="186.5" cy="40.3" r="1.7" fill="#cde3f7" stroke="#4480c8" stroke-width="1"/><circle cx="174" cy="48.7" r="1.7" fill="#cde3f7" stroke="#4480c8" stroke-width="1"/>
<path d="M201 37.7H212.2M206.6 37.7V48.2" stroke="#4480c8" stroke-width="1.2"/>
<path d="M228.5 36.3L231.4 40.9H225.6z" fill="#cde3f7" stroke="#4480c8" stroke-width="1" stroke-linejoin="round"/>
<circle cx="237.3" cy="38.6" r="2.5" fill="#cde3f7" stroke="#4480c8" stroke-width="1"/>
<path d="M228.6 44.8L231.4 46.8L230.3 50H226.9L225.8 46.8z" fill="#cde3f7" stroke="#4480c8" stroke-width="1" stroke-linejoin="round"/>
<rect x="234.8" y="45.1" width="4.8" height="4.7" rx="0.6" fill="#cde3f7" stroke="#4480c8" stroke-width="1"/>
<path d="M247.4 40.9h5.6l-2.8 3.2z" fill="#1a1a1a"/>
<text x="414.3" y="52.3" font-size="22.1" fill="#1b2a63" textLength="376.2" lengthAdjust="spacingAndGlyphs" font-family="Liberation Sans, sans-serif">USD/JPY Daily Chart (Dec, 2022)</text>
</svg></div>
</body></html>
